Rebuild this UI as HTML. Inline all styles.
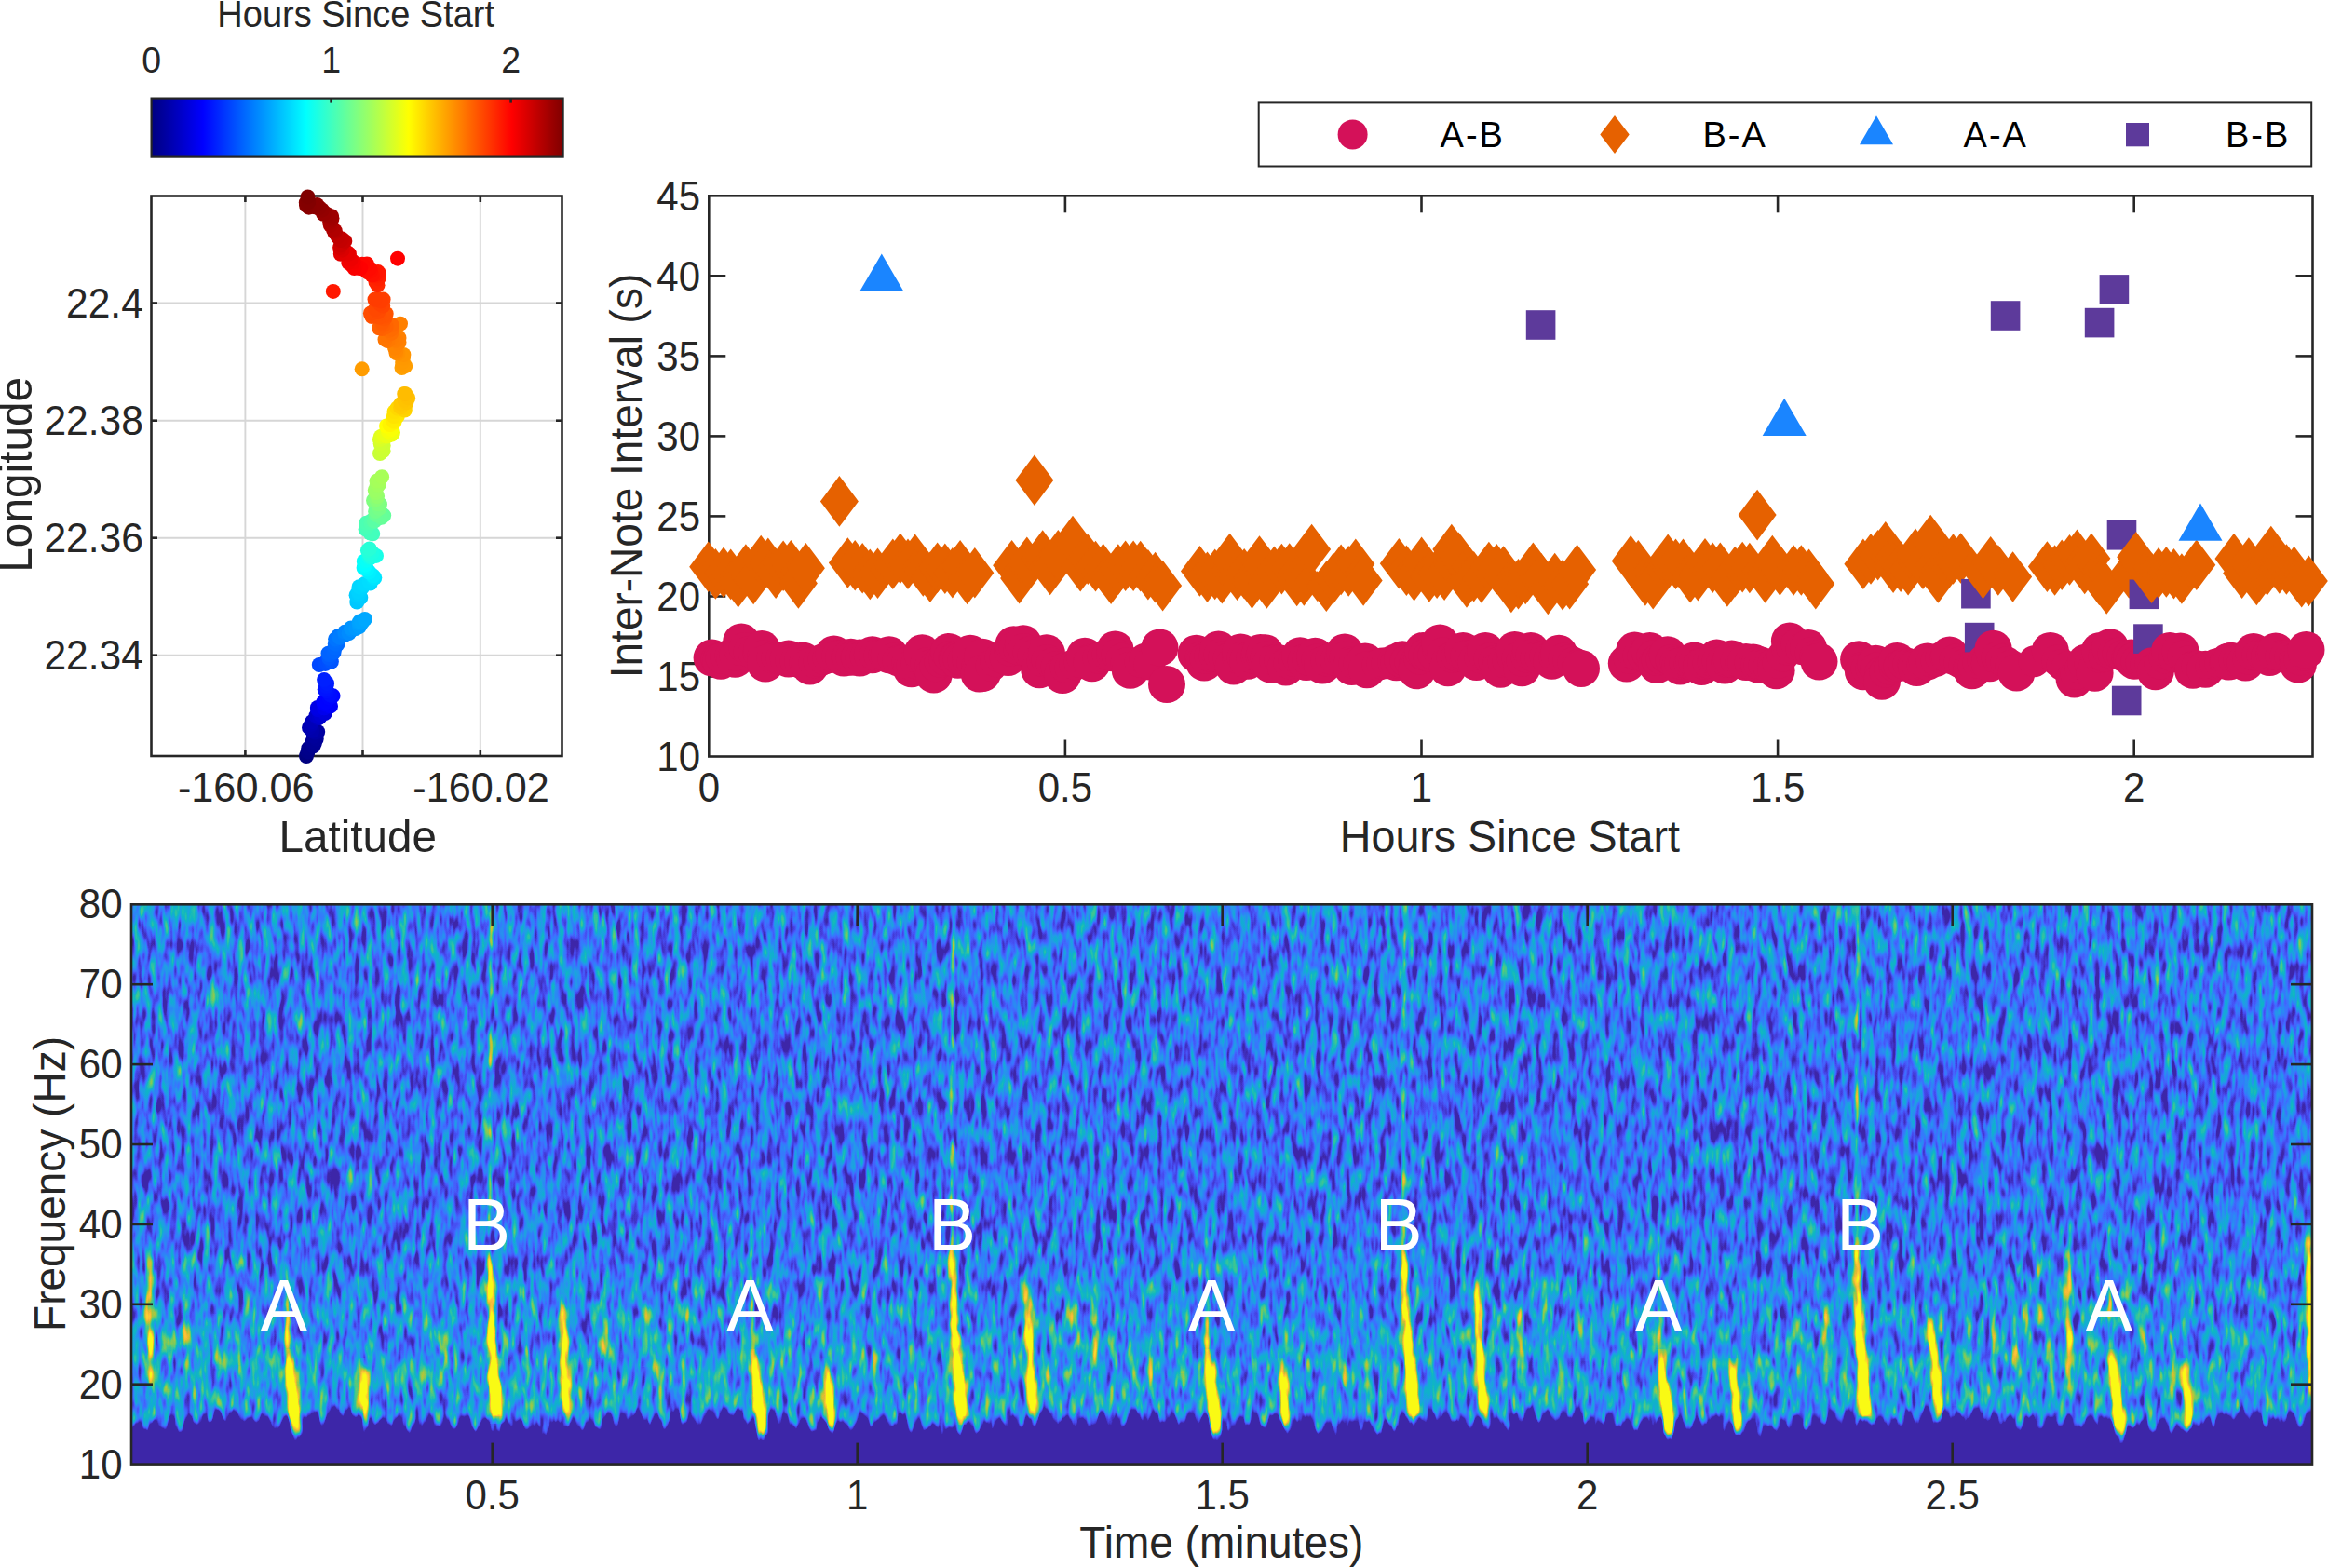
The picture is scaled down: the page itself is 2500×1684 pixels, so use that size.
<!DOCTYPE html>
<html lang="en"><head><meta charset="utf-8"><title>Figure</title>
<style>html,body{margin:0;padding:0;background:#fff;}svg{display:block;}text{font-family:'Liberation Sans', Arial, Helvetica, sans-serif;}</style>
</head><body>
<svg width="2500" height="1684" viewBox="0 0 2500 1684">
<rect x="0" y="0" width="2500" height="1684" fill="#ffffff"/>
<defs>
<linearGradient id="jetg" x1="0" y1="0" x2="1" y2="0"><stop offset="0.0000" stop-color="#000080"/><stop offset="0.0312" stop-color="#00009f"/><stop offset="0.0625" stop-color="#0000bf"/><stop offset="0.0938" stop-color="#0000df"/><stop offset="0.1250" stop-color="#0000ff"/><stop offset="0.1562" stop-color="#0020ff"/><stop offset="0.1875" stop-color="#0040ff"/><stop offset="0.2188" stop-color="#0060ff"/><stop offset="0.2500" stop-color="#0080ff"/><stop offset="0.2812" stop-color="#009fff"/><stop offset="0.3125" stop-color="#00bfff"/><stop offset="0.3438" stop-color="#00dfff"/><stop offset="0.3750" stop-color="#00ffff"/><stop offset="0.4062" stop-color="#20ffdf"/><stop offset="0.4375" stop-color="#40ffbf"/><stop offset="0.4688" stop-color="#60ff9f"/><stop offset="0.5000" stop-color="#80ff80"/><stop offset="0.5312" stop-color="#9fff60"/><stop offset="0.5625" stop-color="#bfff40"/><stop offset="0.5938" stop-color="#dfff20"/><stop offset="0.6250" stop-color="#ffff00"/><stop offset="0.6562" stop-color="#ffdf00"/><stop offset="0.6875" stop-color="#ffbf00"/><stop offset="0.7188" stop-color="#ff9f00"/><stop offset="0.7500" stop-color="#ff8000"/><stop offset="0.7812" stop-color="#ff6000"/><stop offset="0.8125" stop-color="#ff4000"/><stop offset="0.8438" stop-color="#ff2000"/><stop offset="0.8750" stop-color="#ff0000"/><stop offset="0.9062" stop-color="#df0000"/><stop offset="0.9375" stop-color="#bf0000"/><stop offset="0.9688" stop-color="#9f0000"/><stop offset="1.0000" stop-color="#800000"/></linearGradient>
<filter id="specf" filterUnits="userSpaceOnUse" x="141.0" y="971.3" width="2342.0" height="601.3" color-interpolation-filters="sRGB">
<feTurbulence type="fractalNoise" baseFrequency="0.16 0.035" numOctaves="2" seed="11" result="t1"/>
<feColorMatrix in="t1" type="matrix" values="1 0 0 0 0  1 0 0 0 0  1 0 0 0 0  0 0 0 0 1" result="na"/>
<feTurbulence type="fractalNoise" baseFrequency="0.137 0.0415" numOctaves="2" seed="4" result="t2"/>
<feColorMatrix in="t2" type="matrix" values="0 1 0 0 0  0 1 0 0 0  0 1 0 0 0  0 0 0 0 1" result="nb"/>
<feComposite in="na" in2="nb" operator="arithmetic" k1="0" k2="0.7" k3="0.7" k4="-0.2" result="n0"/>
<feComponentTransfer in="n0" result="n"><feFuncR type="table" tableValues="0 0.23 0.5 0.73 0.9"/><feFuncG type="table" tableValues="0 0.23 0.5 0.73 0.9"/><feFuncB type="table" tableValues="0 0.23 0.5 0.73 0.9"/></feComponentTransfer>
<feComposite in="n" in2="SourceGraphic" operator="arithmetic" k1="0" k2="0.82" k3="2" k4="-0.41" result="v"/>
<feComponentTransfer in="v">
<feFuncR type="table" tableValues="0.2422 0.2422 0.2422 0.2422 0.2422 0.2422 0.2422 0.2422 0.2422 0.2422 0.2422 0.2422 0.2422 0.2529 0.2629 0.2720 0.2789 0.2772 0.2660 0.2440 0.2007 0.1708 0.1489 0.1236 0.0845 0.0618 0.0689 0.1411 0.2080 0.2848 0.4158 0.5380 0.6529 0.7600 0.8529 0.9329 0.9909 0.9951 0.9811 0.9720 0.9769"/>
<feFuncG type="table" tableValues="0.1504 0.1504 0.1504 0.1504 0.1504 0.1504 0.1504 0.1504 0.1504 0.1504 0.1504 0.1504 0.1504 0.1870 0.2214 0.2553 0.2935 0.3382 0.3859 0.4358 0.4869 0.5357 0.5820 0.6245 0.6620 0.6955 0.7246 0.7485 0.7693 0.7860 0.7943 0.7903 0.7797 0.7640 0.7447 0.7340 0.7386 0.7814 0.8414 0.9097 0.9839"/>
<feFuncB type="table" tableValues="0.6603 0.6603 0.6603 0.6603 0.6603 0.6603 0.6603 0.6603 0.6603 0.6603 0.6603 0.6603 0.6603 0.7410 0.8152 0.8817 0.9344 0.9673 0.9882 0.9988 0.9854 0.9603 0.9270 0.8920 0.8496 0.8010 0.7460 0.6824 0.6137 0.5323 0.4137 0.3271 0.2571 0.2000 0.1929 0.2071 0.2257 0.2043 0.1714 0.1301 0.0805"/>
<feFuncA type="linear" slope="0" intercept="1"/>
</feComponentTransfer>
</filter>
<filter id="sblur" x="-50%" y="-10%" width="200%" height="120%"><feGaussianBlur stdDeviation="2.8 7"/></filter>
<filter id="fblur" x="-5%" y="-50%" width="110%" height="200%"><feGaussianBlur stdDeviation="2 3"/></filter>
<filter id="sblur2" x="-50%" y="-10%" width="200%" height="120%"><feGaussianBlur stdDeviation="1.2 6"/></filter>
<linearGradient id="lvl" gradientUnits="userSpaceOnUse" x1="0" y1="971.3" x2="0" y2="1572.6">
<stop offset="0.0000" stop-color="#404040"/>
<stop offset="0.2140" stop-color="#3e3e3e"/>
<stop offset="0.4635" stop-color="#3d3d3d"/>
<stop offset="0.5965" stop-color="#3e3e3e"/>
<stop offset="0.7130" stop-color="#424242"/>
<stop offset="0.8294" stop-color="#474747"/>
<stop offset="0.8959" stop-color="#494949"/>
<stop offset="1.0000" stop-color="#494949"/>
</linearGradient>
<clipPath id="pclip"><rect x="141.0" y="971.3" width="2342.0" height="601.3"/></clipPath>
</defs>
<rect x="162.6" y="105.6" width="442.0" height="63.0" fill="url(#jetg)" stroke="#262626" stroke-width="2.2"/>
<line x1="355.6" y1="105.6" x2="355.6" y2="110.6" stroke="#262626" stroke-width="2.6"/>
<line x1="548.6" y1="105.6" x2="548.6" y2="110.6" stroke="#262626" stroke-width="2.6"/>
<text transform="translate(162.6,78.4) scale(1,1.05)" font-size="37.5" text-anchor="middle" fill="#262626" >0</text>
<text transform="translate(355.6,78.4) scale(1,1.05)" font-size="37.5" text-anchor="middle" fill="#262626" >1</text>
<text transform="translate(548.6,78.4) scale(1,1.05)" font-size="37.5" text-anchor="middle" fill="#262626" >2</text>
<text transform="translate(382.2,28.8) scale(1,1.05)" font-size="38" text-anchor="middle" fill="#262626" >Hours Since Start</text>
<line x1="263.4" y1="210.5" x2="263.4" y2="812.0" stroke="#d6d6d6" stroke-width="1.9"/>
<line x1="389.5" y1="210.5" x2="389.5" y2="812.0" stroke="#d6d6d6" stroke-width="1.9"/>
<line x1="515.8" y1="210.5" x2="515.8" y2="812.0" stroke="#d6d6d6" stroke-width="1.9"/>
<line x1="162.5" y1="325.5" x2="603.5" y2="325.5" stroke="#d6d6d6" stroke-width="1.9"/>
<line x1="162.5" y1="451.7" x2="603.5" y2="451.7" stroke="#d6d6d6" stroke-width="1.9"/>
<line x1="162.5" y1="577.7" x2="603.5" y2="577.7" stroke="#d6d6d6" stroke-width="1.9"/>
<line x1="162.5" y1="703.7" x2="603.5" y2="703.7" stroke="#d6d6d6" stroke-width="1.9"/>
<rect x="162.5" y="210.5" width="441.0" height="601.5" fill="none" stroke="#262626" stroke-width="2.6"/>
<line x1="263.4" y1="210.5" x2="263.4" y2="217.0" stroke="#262626" stroke-width="2.6"/>
<line x1="263.4" y1="812.0" x2="263.4" y2="805.5" stroke="#262626" stroke-width="2.6"/>
<line x1="389.5" y1="210.5" x2="389.5" y2="217.0" stroke="#262626" stroke-width="2.6"/>
<line x1="389.5" y1="812.0" x2="389.5" y2="805.5" stroke="#262626" stroke-width="2.6"/>
<line x1="515.8" y1="210.5" x2="515.8" y2="217.0" stroke="#262626" stroke-width="2.6"/>
<line x1="515.8" y1="812.0" x2="515.8" y2="805.5" stroke="#262626" stroke-width="2.6"/>
<line x1="162.5" y1="325.5" x2="169.0" y2="325.5" stroke="#262626" stroke-width="2.6"/>
<line x1="603.5" y1="325.5" x2="597.0" y2="325.5" stroke="#262626" stroke-width="2.6"/>
<line x1="162.5" y1="451.7" x2="169.0" y2="451.7" stroke="#262626" stroke-width="2.6"/>
<line x1="603.5" y1="451.7" x2="597.0" y2="451.7" stroke="#262626" stroke-width="2.6"/>
<line x1="162.5" y1="577.7" x2="169.0" y2="577.7" stroke="#262626" stroke-width="2.6"/>
<line x1="603.5" y1="577.7" x2="597.0" y2="577.7" stroke="#262626" stroke-width="2.6"/>
<line x1="162.5" y1="703.7" x2="169.0" y2="703.7" stroke="#262626" stroke-width="2.6"/>
<line x1="603.5" y1="703.7" x2="597.0" y2="703.7" stroke="#262626" stroke-width="2.6"/>
<text transform="translate(153.8,341.0) scale(1,1.04)" font-size="42.5" text-anchor="end" fill="#262626" >22.4</text>
<text transform="translate(153.8,467.2) scale(1,1.04)" font-size="42.5" text-anchor="end" fill="#262626" >22.38</text>
<text transform="translate(153.8,593.2) scale(1,1.04)" font-size="42.5" text-anchor="end" fill="#262626" >22.36</text>
<text transform="translate(153.8,719.2) scale(1,1.04)" font-size="42.5" text-anchor="end" fill="#262626" >22.34</text>
<text transform="translate(264.2,861.3) scale(1,1.01)" font-size="43.2" text-anchor="middle" fill="#262626" >-160.06</text>
<text transform="translate(516.6,861.3) scale(1,1.01)" font-size="43.2" text-anchor="middle" fill="#262626" >-160.02</text>
<text transform="translate(384.2,915.0) scale(1,1.02)" font-size="47.6" text-anchor="middle" fill="#262626" >Latitude</text>
<text transform="translate(33.6,509.8) rotate(-90) scale(1,1.05)" font-size="47.8" text-anchor="middle" fill="#262626">Longitude</text>
<g>
<circle cx="329.0" cy="812.0" r="8" fill="#000080"/>
<circle cx="330.5" cy="807.4" r="8" fill="#000088"/>
<circle cx="331.3" cy="803.6" r="8" fill="#00008b"/>
<circle cx="335.6" cy="801.2" r="8" fill="#00008d"/>
<circle cx="336.6" cy="801.3" r="8" fill="#000090"/>
<circle cx="337.9" cy="798.1" r="8" fill="#000093"/>
<circle cx="335.6" cy="796.2" r="8" fill="#000095"/>
<circle cx="339.7" cy="793.6" r="8" fill="#000098"/>
<circle cx="337.0" cy="790.7" r="8" fill="#00009b"/>
<circle cx="337.7" cy="786.5" r="8" fill="#00009d"/>
<circle cx="341.2" cy="786.0" r="8" fill="#0000a0"/>
<circle cx="338.4" cy="786.5" r="8" fill="#0000a4"/>
<circle cx="334.0" cy="782.3" r="8" fill="#0000a8"/>
<circle cx="335.2" cy="784.8" r="8" fill="#0000ac"/>
<circle cx="332.0" cy="781.4" r="8" fill="#0000b0"/>
<circle cx="334.1" cy="777.8" r="8" fill="#0000b4"/>
<circle cx="335.1" cy="775.2" r="8" fill="#0000b8"/>
<circle cx="340.7" cy="771.4" r="8" fill="#0000bd"/>
<circle cx="342.2" cy="771.1" r="8" fill="#0000c3"/>
<circle cx="339.5" cy="768.7" r="8" fill="#0000c8"/>
<circle cx="343.0" cy="770.7" r="8" fill="#0000cd"/>
<circle cx="344.4" cy="768.0" r="8" fill="#0000d3"/>
<circle cx="348.9" cy="766.1" r="8" fill="#0000d8"/>
<circle cx="347.3" cy="764.2" r="8" fill="#0000db"/>
<circle cx="344.1" cy="761.3" r="8" fill="#0000dd"/>
<circle cx="341.2" cy="762.2" r="8" fill="#0000e0"/>
<circle cx="340.9" cy="760.0" r="8" fill="#0000e5"/>
<circle cx="348.0" cy="760.3" r="8" fill="#0000ea"/>
<circle cx="348.2" cy="760.3" r="8" fill="#0000ee"/>
<circle cx="351.9" cy="758.2" r="8" fill="#0000f3"/>
<circle cx="355.0" cy="758.4" r="8" fill="#0000f8"/>
<circle cx="354.5" cy="757.9" r="8" fill="#0000fa"/>
<circle cx="348.1" cy="755.7" r="8" fill="#0000fd"/>
<circle cx="347.4" cy="753.8" r="8" fill="#0000ff"/>
<circle cx="349.9" cy="754.2" r="8" fill="#0002ff"/>
<circle cx="353.6" cy="749.7" r="8" fill="#0004ff"/>
<circle cx="357.6" cy="747.3" r="8" fill="#0006ff"/>
<circle cx="356.5" cy="747.7" r="8" fill="#0008ff"/>
<circle cx="354.4" cy="746.3" r="8" fill="#000cff"/>
<circle cx="351.0" cy="742.3" r="8" fill="#0010ff"/>
<circle cx="348.7" cy="740.5" r="8" fill="#0014ff"/>
<circle cx="350.4" cy="737.0" r="8" fill="#0018ff"/>
<circle cx="351.1" cy="733.9" r="8" fill="#001cff"/>
<circle cx="348.1" cy="730.1" r="8" fill="#0020ff"/>
<circle cx="342.8" cy="714.0" r="8" fill="#0048ff"/>
<circle cx="348.1" cy="712.3" r="8" fill="#004aff"/>
<circle cx="349.5" cy="712.9" r="8" fill="#004cff"/>
<circle cx="351.4" cy="711.5" r="8" fill="#004eff"/>
<circle cx="353.5" cy="710.9" r="8" fill="#0050ff"/>
<circle cx="355.9" cy="710.6" r="8" fill="#0055ff"/>
<circle cx="353.3" cy="706.7" r="8" fill="#005bff"/>
<circle cx="353.5" cy="703.3" r="8" fill="#0060ff"/>
<circle cx="352.5" cy="701.7" r="8" fill="#0063ff"/>
<circle cx="358.6" cy="700.6" r="8" fill="#0065ff"/>
<circle cx="359.6" cy="695.6" r="8" fill="#0068ff"/>
<circle cx="362.4" cy="692.0" r="8" fill="#006bff"/>
<circle cx="359.8" cy="691.4" r="8" fill="#006dff"/>
<circle cx="361.1" cy="688.0" r="8" fill="#0070ff"/>
<circle cx="360.1" cy="686.3" r="8" fill="#0074ff"/>
<circle cx="363.4" cy="683.0" r="8" fill="#0078ff"/>
<circle cx="364.9" cy="684.8" r="8" fill="#007cff"/>
<circle cx="370.3" cy="681.9" r="8" fill="#0080ff"/>
<circle cx="370.3" cy="678.8" r="8" fill="#0085ff"/>
<circle cx="374.7" cy="680.2" r="8" fill="#008bff"/>
<circle cx="378.0" cy="676.5" r="8" fill="#0090ff"/>
<circle cx="377.0" cy="674.5" r="8" fill="#0094ff"/>
<circle cx="382.1" cy="675.0" r="8" fill="#0098ff"/>
<circle cx="385.9" cy="673.1" r="8" fill="#009cff"/>
<circle cx="385.6" cy="669.6" r="8" fill="#00a0ff"/>
<circle cx="386.1" cy="667.6" r="8" fill="#00a3ff"/>
<circle cx="388.7" cy="668.5" r="8" fill="#00a5ff"/>
<circle cx="391.8" cy="665.0" r="8" fill="#00a8ff"/>
<circle cx="383.3" cy="646.6" r="8" fill="#00c8ff"/>
<circle cx="387.3" cy="641.8" r="8" fill="#00cbff"/>
<circle cx="382.6" cy="639.2" r="8" fill="#00cdff"/>
<circle cx="385.6" cy="637.5" r="8" fill="#00d0ff"/>
<circle cx="384.9" cy="635.1" r="8" fill="#00d2ff"/>
<circle cx="388.5" cy="631.7" r="8" fill="#00d4ff"/>
<circle cx="385.6" cy="630.2" r="8" fill="#00d6ff"/>
<circle cx="390.2" cy="628.3" r="8" fill="#00d8ff"/>
<circle cx="391.4" cy="627.3" r="8" fill="#00daff"/>
<circle cx="397.7" cy="626.5" r="8" fill="#00dbff"/>
<circle cx="396.8" cy="624.7" r="8" fill="#00ddff"/>
<circle cx="400.1" cy="620.5" r="8" fill="#00deff"/>
<circle cx="401.0" cy="621.4" r="8" fill="#00e0ff"/>
<circle cx="402.3" cy="620.5" r="8" fill="#00e5ff"/>
<circle cx="400.6" cy="618.3" r="8" fill="#00ebff"/>
<circle cx="396.4" cy="614.5" r="8" fill="#00f0ff"/>
<circle cx="394.1" cy="611.4" r="8" fill="#00f5ff"/>
<circle cx="390.6" cy="610.0" r="8" fill="#00faff"/>
<circle cx="391.8" cy="606.8" r="8" fill="#00ffff"/>
<circle cx="390.8" cy="603.0" r="8" fill="#04fffb"/>
<circle cx="393.8" cy="601.8" r="8" fill="#08fff7"/>
<circle cx="396.8" cy="599.6" r="8" fill="#0cfff3"/>
<circle cx="396.4" cy="598.5" r="8" fill="#10ffef"/>
<circle cx="399.2" cy="597.9" r="8" fill="#14ffeb"/>
<circle cx="404.0" cy="596.9" r="8" fill="#18ffe7"/>
<circle cx="398.1" cy="598.0" r="8" fill="#1bffe4"/>
<circle cx="399.7" cy="593.6" r="8" fill="#1dffe2"/>
<circle cx="396.4" cy="594.6" r="8" fill="#20ffdf"/>
<circle cx="394.9" cy="591.2" r="8" fill="#24ffdb"/>
<circle cx="396.8" cy="589.4" r="8" fill="#28ffd7"/>
<circle cx="400.3" cy="573.3" r="8" fill="#40ffbf"/>
<circle cx="396.8" cy="569.8" r="8" fill="#41ffbe"/>
<circle cx="397.6" cy="572.5" r="8" fill="#43ffbc"/>
<circle cx="392.6" cy="568.4" r="8" fill="#44ffbb"/>
<circle cx="394.2" cy="566.0" r="8" fill="#48ffb7"/>
<circle cx="393.4" cy="561.7" r="8" fill="#4cffb3"/>
<circle cx="398.2" cy="561.4" r="8" fill="#50ffaf"/>
<circle cx="399.4" cy="558.9" r="8" fill="#53ffac"/>
<circle cx="405.2" cy="557.1" r="8" fill="#57ffa8"/>
<circle cx="401.9" cy="559.8" r="8" fill="#5affa5"/>
<circle cx="407.7" cy="554.4" r="8" fill="#5dffa2"/>
<circle cx="410.2" cy="552.5" r="8" fill="#61ff9e"/>
<circle cx="412.2" cy="553.6" r="8" fill="#64ff9b"/>
<circle cx="409.6" cy="555.8" r="8" fill="#65ff9a"/>
<circle cx="409.1" cy="554.1" r="8" fill="#67ff98"/>
<circle cx="403.8" cy="552.9" r="8" fill="#68ff97"/>
<circle cx="403.2" cy="549.4" r="8" fill="#6dff92"/>
<circle cx="403.6" cy="548.7" r="8" fill="#72ff8d"/>
<circle cx="407.2" cy="545.9" r="8" fill="#77ff88"/>
<circle cx="408.0" cy="541.7" r="8" fill="#7cff83"/>
<circle cx="404.5" cy="538.9" r="8" fill="#7dff82"/>
<circle cx="405.5" cy="541.3" r="8" fill="#7fff80"/>
<circle cx="401.0" cy="537.5" r="8" fill="#80ff7f"/>
<circle cx="404.4" cy="536.2" r="8" fill="#88ff77"/>
<circle cx="405.1" cy="533.1" r="8" fill="#90ff6f"/>
<circle cx="403.8" cy="529.1" r="8" fill="#98ff67"/>
<circle cx="402.8" cy="526.4" r="8" fill="#9bff64"/>
<circle cx="404.7" cy="521.1" r="8" fill="#9dff62"/>
<circle cx="406.6" cy="520.7" r="8" fill="#a0ff5f"/>
<circle cx="404.5" cy="516.8" r="8" fill="#a3ff5c"/>
<circle cx="407.2" cy="516.0" r="8" fill="#a5ff5a"/>
<circle cx="410.1" cy="512.2" r="8" fill="#a8ff57"/>
<circle cx="408.0" cy="487.0" r="8" fill="#c8ff37"/>
<circle cx="411.4" cy="484.1" r="8" fill="#caff35"/>
<circle cx="411.4" cy="484.2" r="8" fill="#ccff33"/>
<circle cx="411.7" cy="478.4" r="8" fill="#ceff31"/>
<circle cx="408.7" cy="476.5" r="8" fill="#d0ff2f"/>
<circle cx="407.9" cy="472.1" r="8" fill="#d8ff27"/>
<circle cx="408.9" cy="468.9" r="8" fill="#e0ff1f"/>
<circle cx="412.2" cy="467.3" r="8" fill="#e8ff17"/>
<circle cx="415.5" cy="468.6" r="8" fill="#eaff15"/>
<circle cx="419.5" cy="465.8" r="8" fill="#ecff13"/>
<circle cx="420.6" cy="466.7" r="8" fill="#eeff11"/>
<circle cx="422.0" cy="464.5" r="8" fill="#f0ff0f"/>
<circle cx="416.8" cy="463.0" r="8" fill="#f5ff0a"/>
<circle cx="420.2" cy="461.2" r="8" fill="#faff05"/>
<circle cx="415.0" cy="457.5" r="8" fill="#ffff00"/>
<circle cx="419.6" cy="456.0" r="8" fill="#fffa00"/>
<circle cx="418.4" cy="456.1" r="8" fill="#fff500"/>
<circle cx="423.5" cy="453.3" r="8" fill="#fff000"/>
<circle cx="422.3" cy="452.0" r="8" fill="#ffec00"/>
<circle cx="426.8" cy="447.2" r="8" fill="#ffe800"/>
<circle cx="422.8" cy="447.1" r="8" fill="#ffe400"/>
<circle cx="423.5" cy="442.1" r="8" fill="#ffe000"/>
<circle cx="427.9" cy="439.4" r="8" fill="#ffdc00"/>
<circle cx="426.5" cy="438.3" r="8" fill="#ffd800"/>
<circle cx="434.7" cy="440.5" r="8" fill="#ffd400"/>
<circle cx="434.7" cy="437.9" r="8" fill="#ffd000"/>
<circle cx="430.1" cy="437.4" r="8" fill="#ffcc00"/>
<circle cx="430.5" cy="433.7" r="8" fill="#ffc800"/>
<circle cx="436.4" cy="432.4" r="8" fill="#ffc500"/>
<circle cx="434.6" cy="429.7" r="8" fill="#ffc300"/>
<circle cx="438.2" cy="427.4" r="8" fill="#ffc000"/>
<circle cx="434.2" cy="422.9" r="8" fill="#ffbe00"/>
<circle cx="435.4" cy="423.2" r="8" fill="#ffbc00"/>
<circle cx="431.5" cy="395.1" r="8" fill="#ffa000"/>
<circle cx="435.2" cy="393.2" r="8" fill="#ff9e00"/>
<circle cx="388.7" cy="396.3" r="8" fill="#ff9c00"/>
<circle cx="432.4" cy="391.9" r="8" fill="#ff9c00"/>
<circle cx="432.2" cy="388.9" r="8" fill="#ff9a00"/>
<circle cx="433.0" cy="384.4" r="8" fill="#ff9800"/>
<circle cx="433.4" cy="381.0" r="8" fill="#ff9400"/>
<circle cx="427.5" cy="379.5" r="8" fill="#ff9000"/>
<circle cx="425.5" cy="379.1" r="8" fill="#ff8c00"/>
<circle cx="425.4" cy="376.7" r="8" fill="#ff8800"/>
<circle cx="424.3" cy="373.6" r="8" fill="#ff8600"/>
<circle cx="424.1" cy="373.3" r="8" fill="#ff8500"/>
<circle cx="426.2" cy="368.3" r="8" fill="#ff8300"/>
<circle cx="428.5" cy="367.8" r="8" fill="#ff8200"/>
<circle cx="428.5" cy="363.0" r="8" fill="#ff8000"/>
<circle cx="430.0" cy="347.7" r="8" fill="#ff8000"/>
<circle cx="425.5" cy="365.7" r="8" fill="#ff7e00"/>
<circle cx="423.6" cy="364.4" r="8" fill="#ff7d00"/>
<circle cx="421.3" cy="362.4" r="8" fill="#ff7b00"/>
<circle cx="418.2" cy="363.8" r="8" fill="#ff7a00"/>
<circle cx="416.2" cy="366.0" r="8" fill="#ff7800"/>
<circle cx="413.5" cy="364.7" r="8" fill="#ff7500"/>
<circle cx="415.4" cy="360.3" r="8" fill="#ff7300"/>
<circle cx="420.1" cy="357.9" r="8" fill="#ff7000"/>
<circle cx="418.0" cy="354.9" r="8" fill="#ff6d00"/>
<circle cx="420.4" cy="353.4" r="8" fill="#ff6b00"/>
<circle cx="420.8" cy="349.2" r="8" fill="#ff6800"/>
<circle cx="415.3" cy="350.1" r="8" fill="#ff6600"/>
<circle cx="413.5" cy="349.3" r="8" fill="#ff6500"/>
<circle cx="414.4" cy="351.1" r="8" fill="#ff6300"/>
<circle cx="410.2" cy="353.0" r="8" fill="#ff6200"/>
<circle cx="407.0" cy="352.3" r="8" fill="#ff6000"/>
<circle cx="411.2" cy="349.5" r="8" fill="#ff5e00"/>
<circle cx="410.4" cy="347.2" r="8" fill="#ff5c00"/>
<circle cx="410.9" cy="345.6" r="8" fill="#ff5a00"/>
<circle cx="411.8" cy="342.3" r="8" fill="#ff5800"/>
<circle cx="413.3" cy="341.8" r="8" fill="#ff5600"/>
<circle cx="414.7" cy="337.0" r="8" fill="#ff5400"/>
<circle cx="413.5" cy="339.4" r="8" fill="#ff5300"/>
<circle cx="412.7" cy="336.8" r="8" fill="#ff5300"/>
<circle cx="407.5" cy="340.7" r="8" fill="#ff5200"/>
<circle cx="406.9" cy="337.2" r="8" fill="#ff5100"/>
<circle cx="399.3" cy="339.2" r="8" fill="#ff5100"/>
<circle cx="399.4" cy="340.0" r="8" fill="#ff5000"/>
<circle cx="397.9" cy="336.4" r="8" fill="#ff4e00"/>
<circle cx="399.5" cy="336.2" r="8" fill="#ff4c00"/>
<circle cx="406.0" cy="335.1" r="8" fill="#ff4a00"/>
<circle cx="403.1" cy="331.9" r="8" fill="#ff4800"/>
<circle cx="408.1" cy="326.7" r="8" fill="#ff4600"/>
<circle cx="411.2" cy="328.5" r="8" fill="#ff4400"/>
<circle cx="408.1" cy="326.2" r="8" fill="#ff4200"/>
<circle cx="411.6" cy="321.6" r="8" fill="#ff4000"/>
<circle cx="407.9" cy="321.5" r="8" fill="#ff3f00"/>
<circle cx="409.0" cy="323.3" r="8" fill="#ff3d00"/>
<circle cx="402.5" cy="321.6" r="8" fill="#ff3c00"/>
<circle cx="405.5" cy="306.3" r="8" fill="#ff2800"/>
<circle cx="403.5" cy="302.9" r="8" fill="#ff2400"/>
<circle cx="406.4" cy="299.3" r="8" fill="#ff2000"/>
<circle cx="404.5" cy="296.2" r="8" fill="#ff1c00"/>
<circle cx="357.8" cy="312.9" r="8" fill="#ff1800"/>
<circle cx="407.0" cy="294.0" r="8" fill="#ff1800"/>
<circle cx="406.0" cy="292.1" r="8" fill="#ff1500"/>
<circle cx="402.3" cy="294.8" r="8" fill="#ff1300"/>
<circle cx="399.4" cy="295.6" r="8" fill="#ff1000"/>
<circle cx="394.9" cy="292.3" r="8" fill="#ff0e00"/>
<circle cx="398.1" cy="290.8" r="8" fill="#ff0d00"/>
<circle cx="393.1" cy="290.7" r="8" fill="#ff0b00"/>
<circle cx="397.1" cy="288.2" r="8" fill="#ff0a00"/>
<circle cx="394.0" cy="283.4" r="8" fill="#ff0800"/>
<circle cx="388.9" cy="283.8" r="8" fill="#ff0500"/>
<circle cx="386.2" cy="287.9" r="8" fill="#ff0300"/>
<circle cx="387.1" cy="288.0" r="8" fill="#ff0000"/>
<circle cx="427.0" cy="277.7" r="8" fill="#ff0000"/>
<circle cx="382.5" cy="285.1" r="8" fill="#fd0000"/>
<circle cx="380.5" cy="288.0" r="8" fill="#fa0000"/>
<circle cx="378.0" cy="284.9" r="8" fill="#f80000"/>
<circle cx="379.6" cy="281.3" r="8" fill="#f50000"/>
<circle cx="374.3" cy="282.1" r="8" fill="#f20000"/>
<circle cx="376.6" cy="278.6" r="8" fill="#ee0000"/>
<circle cx="372.6" cy="272.9" r="8" fill="#eb0000"/>
<circle cx="374.9" cy="272.7" r="8" fill="#e80000"/>
<circle cx="373.2" cy="271.3" r="8" fill="#e50000"/>
<circle cx="365.8" cy="272.8" r="8" fill="#e30000"/>
<circle cx="365.7" cy="269.6" r="8" fill="#e00000"/>
<circle cx="367.8" cy="268.4" r="8" fill="#da0000"/>
<circle cx="365.1" cy="266.0" r="8" fill="#d40000"/>
<circle cx="366.1" cy="263.4" r="8" fill="#ce0000"/>
<circle cx="370.3" cy="258.9" r="8" fill="#c80000"/>
<circle cx="367.4" cy="256.6" r="8" fill="#c50000"/>
<circle cx="365.6" cy="258.0" r="8" fill="#c30000"/>
<circle cx="362.7" cy="254.3" r="8" fill="#c00000"/>
<circle cx="359.5" cy="249.9" r="8" fill="#bb0000"/>
<circle cx="359.8" cy="247.9" r="8" fill="#b50000"/>
<circle cx="358.0" cy="246.6" r="8" fill="#b00000"/>
<circle cx="354.9" cy="241.9" r="8" fill="#ac0000"/>
<circle cx="354.1" cy="239.0" r="8" fill="#a80000"/>
<circle cx="355.6" cy="236.5" r="8" fill="#a40000"/>
<circle cx="356.5" cy="234.4" r="8" fill="#a00000"/>
<circle cx="356.0" cy="232.2" r="8" fill="#9e0000"/>
<circle cx="351.9" cy="230.5" r="8" fill="#9c0000"/>
<circle cx="348.5" cy="228.5" r="8" fill="#9a0000"/>
<circle cx="347.3" cy="229.8" r="8" fill="#980000"/>
<circle cx="344.1" cy="225.1" r="8" fill="#950000"/>
<circle cx="345.9" cy="225.5" r="8" fill="#930000"/>
<circle cx="342.8" cy="222.9" r="8" fill="#900000"/>
<circle cx="337.9" cy="222.3" r="8" fill="#8e0000"/>
<circle cx="340.3" cy="220.0" r="8" fill="#8d0000"/>
<circle cx="336.8" cy="221.2" r="8" fill="#8b0000"/>
<circle cx="331.7" cy="222.7" r="8" fill="#8a0000"/>
<circle cx="329.0" cy="220.6" r="8" fill="#880000"/>
<circle cx="328.8" cy="217.6" r="8" fill="#850000"/>
<circle cx="331.3" cy="216.9" r="8" fill="#830000"/>
<circle cx="330.5" cy="211.4" r="8" fill="#800000"/>
</g>
<rect x="761.3" y="210.3" width="1722.2" height="602.2" fill="none" stroke="#262626" stroke-width="2.6"/>
<text transform="translate(761.3,861.0) scale(1,1.05)" font-size="42" text-anchor="middle" fill="#262626" >0</text>
<line x1="1143.9" y1="210.3" x2="1143.9" y2="228.3" stroke="#262626" stroke-width="2.6"/>
<line x1="1143.9" y1="812.5" x2="1143.9" y2="794.5" stroke="#262626" stroke-width="2.6"/>
<text transform="translate(1143.9,861.0) scale(1,1.05)" font-size="42" text-anchor="middle" fill="#262626" >0.5</text>
<line x1="1526.5" y1="210.3" x2="1526.5" y2="228.3" stroke="#262626" stroke-width="2.6"/>
<line x1="1526.5" y1="812.5" x2="1526.5" y2="794.5" stroke="#262626" stroke-width="2.6"/>
<text transform="translate(1526.5,861.0) scale(1,1.05)" font-size="42" text-anchor="middle" fill="#262626" >1</text>
<line x1="1909.1" y1="210.3" x2="1909.1" y2="228.3" stroke="#262626" stroke-width="2.6"/>
<line x1="1909.1" y1="812.5" x2="1909.1" y2="794.5" stroke="#262626" stroke-width="2.6"/>
<text transform="translate(1909.1,861.0) scale(1,1.05)" font-size="42" text-anchor="middle" fill="#262626" >1.5</text>
<line x1="2291.7" y1="210.3" x2="2291.7" y2="228.3" stroke="#262626" stroke-width="2.6"/>
<line x1="2291.7" y1="812.5" x2="2291.7" y2="794.5" stroke="#262626" stroke-width="2.6"/>
<text transform="translate(2291.7,861.0) scale(1,1.05)" font-size="42" text-anchor="middle" fill="#262626" >2</text>
<text transform="translate(752.0,225.9) scale(1,1.05)" font-size="42" text-anchor="end" fill="#262626" >45</text>
<line x1="761.3" y1="296.3" x2="779.3" y2="296.3" stroke="#262626" stroke-width="2.6"/>
<line x1="2483.5" y1="296.3" x2="2465.5" y2="296.3" stroke="#262626" stroke-width="2.6"/>
<text transform="translate(752.0,311.9) scale(1,1.05)" font-size="42" text-anchor="end" fill="#262626" >40</text>
<line x1="761.3" y1="382.4" x2="779.3" y2="382.4" stroke="#262626" stroke-width="2.6"/>
<line x1="2483.5" y1="382.4" x2="2465.5" y2="382.4" stroke="#262626" stroke-width="2.6"/>
<text transform="translate(752.0,398.0) scale(1,1.05)" font-size="42" text-anchor="end" fill="#262626" >35</text>
<line x1="761.3" y1="468.4" x2="779.3" y2="468.4" stroke="#262626" stroke-width="2.6"/>
<line x1="2483.5" y1="468.4" x2="2465.5" y2="468.4" stroke="#262626" stroke-width="2.6"/>
<text transform="translate(752.0,484.0) scale(1,1.05)" font-size="42" text-anchor="end" fill="#262626" >30</text>
<line x1="761.3" y1="554.4" x2="779.3" y2="554.4" stroke="#262626" stroke-width="2.6"/>
<line x1="2483.5" y1="554.4" x2="2465.5" y2="554.4" stroke="#262626" stroke-width="2.6"/>
<text transform="translate(752.0,570.0) scale(1,1.05)" font-size="42" text-anchor="end" fill="#262626" >25</text>
<line x1="761.3" y1="640.5" x2="779.3" y2="640.5" stroke="#262626" stroke-width="2.6"/>
<line x1="2483.5" y1="640.5" x2="2465.5" y2="640.5" stroke="#262626" stroke-width="2.6"/>
<text transform="translate(752.0,656.1) scale(1,1.05)" font-size="42" text-anchor="end" fill="#262626" >20</text>
<line x1="761.3" y1="726.5" x2="779.3" y2="726.5" stroke="#262626" stroke-width="2.6"/>
<line x1="2483.5" y1="726.5" x2="2465.5" y2="726.5" stroke="#262626" stroke-width="2.6"/>
<text transform="translate(752.0,742.1) scale(1,1.05)" font-size="42" text-anchor="end" fill="#262626" >15</text>
<text transform="translate(752.0,828.1) scale(1,1.05)" font-size="42" text-anchor="end" fill="#262626" >10</text>
<text transform="translate(1621.4,914.8) scale(1,1.05)" font-size="46.6" text-anchor="middle" fill="#262626" >Hours Since Start</text>
<text transform="translate(689.0,511.0) rotate(-90) scale(1,1.05)" font-size="46" text-anchor="middle" fill="#262626">Inter-Note Interval (s)</text>
<rect x="1351.7" y="110.4" width="1130.5" height="68.1" fill="#ffffff" stroke="#262626" stroke-width="2"/>
<circle cx="1452.6" cy="144.4" r="16" fill="#D41159"/>
<polygon points="1734,123.9 1749.7,144.4 1734,164.9 1718.3,144.4" fill="#E66100"/>
<polygon points="2015,124.3 2033,155.3 1997,155.3" fill="#1A85FF"/>
<rect x="2283" y="132" width="25" height="25.3" fill="#5D3A9B"/>
<text transform="translate(1546.6,158.3) scale(1,1.0)" font-size="38" text-anchor="start" fill="#000000" letter-spacing="2">A-B</text>
<text transform="translate(1828.4,158.3) scale(1,1.0)" font-size="38" text-anchor="start" fill="#000000" letter-spacing="2">B-A</text>
<text transform="translate(2108.6,158.3) scale(1,1.0)" font-size="38" text-anchor="start" fill="#000000" letter-spacing="2">A-A</text>
<text transform="translate(2390.0,158.3) scale(1,1.0)" font-size="38" text-anchor="start" fill="#000000" letter-spacing="2">B-B</text>
<style>.c{fill:#D41159}.d{fill:#E66100}.t{fill:#1A85FF}.q{fill:#5D3A9B}</style>
<g>
<polygon class="d" points="760.7,596.1 773.0,612.5 760.7,628.9 748.4,612.5"/>
<polygon class="d" points="760.7,581.4 781.2,608.7 760.7,636.0 740.2,608.7"/>
<circle class="c" cx="764.6" cy="707.3" r="17.0"/>
<circle class="c" cx="764.6" cy="706.6" r="20.0"/>
<polygon class="d" points="766.7,596.9 779.0,613.3 766.7,629.7 754.4,613.3"/>
<polygon class="d" points="768.4,589.1 788.9,616.4 768.4,643.7 747.9,616.4"/>
<circle class="c" cx="769.6" cy="708.1" r="17.0"/>
<polygon class="d" points="772.7,597.8 785.0,614.2 772.7,630.6 760.4,614.2"/>
<circle class="c" cx="774.1" cy="709.7" r="20.0"/>
<circle class="c" cx="774.6" cy="706.8" r="17.0"/>
<polygon class="d" points="777.0,587.5 797.5,614.8 777.0,642.1 756.5,614.8"/>
<polygon class="d" points="778.7,599.6 791.0,616.0 778.7,632.4 766.4,616.0"/>
<circle class="c" cx="779.6" cy="705.1" r="17.0"/>
<circle class="c" cx="784.6" cy="704.0" r="17.0"/>
<polygon class="d" points="784.7,589.6 805.2,616.9 784.7,644.2 764.2,616.9"/>
<polygon class="d" points="784.7,602.6 797.0,619.0 784.7,635.4 772.4,619.0"/>
<circle class="c" cx="789.4" cy="707.8" r="20.0"/>
<circle class="c" cx="789.6" cy="703.5" r="17.0"/>
<polygon class="d" points="790.7,601.5 803.0,617.9 790.7,634.3 778.4,617.9"/>
<polygon class="d" points="792.7,598.0 813.2,625.3 792.7,652.6 772.2,625.3"/>
<circle class="c" cx="794.6" cy="698.0" r="17.0"/>
<circle class="c" cx="796.1" cy="689.4" r="20.0"/>
<polygon class="d" points="796.7,602.6 809.0,618.9 796.7,635.3 784.4,618.9"/>
<circle class="c" cx="799.6" cy="696.0" r="17.0"/>
<polygon class="d" points="800.9,584.3 821.4,611.6 800.9,638.9 780.4,611.6"/>
<polygon class="d" points="802.7,603.2 815.0,619.6 802.7,636.0 790.4,619.6"/>
<circle class="c" cx="804.6" cy="699.9" r="17.0"/>
<polygon class="d" points="808.7,595.5 821.0,611.9 808.7,628.2 796.4,611.9"/>
<polygon class="d" points="809.1,594.7 829.6,622.0 809.1,649.3 788.6,622.0"/>
<circle class="c" cx="809.6" cy="701.0" r="17.0"/>
<circle class="c" cx="814.6" cy="700.9" r="17.0"/>
<polygon class="d" points="814.7,593.3 827.0,609.6 814.7,626.0 802.4,609.6"/>
<polygon class="d" points="817.2,574.7 837.7,602.0 817.2,629.3 796.7,602.0"/>
<circle class="c" cx="818.1" cy="697.1" r="20.0"/>
<circle class="c" cx="819.6" cy="704.2" r="17.0"/>
<polygon class="d" points="820.7,594.8 833.0,611.2 820.7,627.5 808.4,611.2"/>
<circle class="c" cx="822.0" cy="712.6" r="20.0"/>
<polygon class="d" points="824.8,577.6 845.3,604.9 824.8,632.2 804.3,604.9"/>
<polygon class="d" points="826.7,591.2 839.0,607.5 826.7,623.9 814.4,607.5"/>
<circle class="c" cx="829.6" cy="706.3" r="17.0"/>
<polygon class="d" points="832.7,593.0 845.0,609.4 832.7,625.8 820.4,609.4"/>
<polygon class="d" points="833.1,588.4 853.6,615.7 833.1,643.0 812.6,615.7"/>
<circle class="c" cx="834.6" cy="706.3" r="17.0"/>
<polygon class="d" points="838.7,593.9 851.0,610.2 838.7,626.6 826.4,610.2"/>
<circle class="c" cx="839.6" cy="706.5" r="17.0"/>
<polygon class="d" points="841.1,580.4 861.6,607.7 841.1,635.0 820.6,607.7"/>
<polygon class="d" points="844.7,597.9 857.0,614.3 844.7,630.7 832.4,614.3"/>
<circle class="c" cx="846.8" cy="707.6" r="20.0"/>
<polygon class="d" points="849.3,580.1 869.8,607.4 849.3,634.7 828.8,607.4"/>
<circle class="c" cx="849.6" cy="709.3" r="17.0"/>
<polygon class="d" points="850.7,597.4 863.0,613.8 850.7,630.2 838.4,613.8"/>
<circle class="c" cx="854.6" cy="710.1" r="17.0"/>
<polygon class="d" points="856.7,598.3 869.0,614.7 856.7,631.1 844.4,614.7"/>
<polygon class="d" points="857.4,599.1 877.9,626.4 857.4,653.7 836.9,626.4"/>
<circle class="c" cx="859.6" cy="710.6" r="17.0"/>
<circle class="c" cx="862.1" cy="709.5" r="20.0"/>
<polygon class="d" points="862.7,601.9 875.0,618.3 862.7,634.7 850.4,618.3"/>
<circle class="c" cx="864.6" cy="711.3" r="17.0"/>
<polygon class="d" points="865.4,582.9 885.9,610.2 865.4,637.5 844.9,610.2"/>
<circle class="c" cx="869.6" cy="713.8" r="17.0"/>
<circle class="c" cx="869.8" cy="715.4" r="20.0"/>
<circle class="c" cx="874.6" cy="711.3" r="17.0"/>
<circle class="c" cx="879.6" cy="710.0" r="17.0"/>
<circle class="c" cx="884.6" cy="707.8" r="17.0"/>
<circle class="c" cx="889.6" cy="706.3" r="17.0"/>
<circle class="c" cx="895.6" cy="702.4" r="20.0"/>
<circle class="c" cx="899.6" cy="704.4" r="17.0"/>
<polygon class="d" points="901.4,511.1 921.9,538.4 901.4,565.7 880.9,538.4"/>
<circle class="c" cx="904.6" cy="705.5" r="17.0"/>
<circle class="c" cx="906.1" cy="706.4" r="20.0"/>
<circle class="c" cx="909.6" cy="705.6" r="17.0"/>
<polygon class="d" points="910.4,577.2 930.9,604.5 910.4,631.8 889.9,604.5"/>
<polygon class="d" points="910.7,589.5 923.0,605.8 910.7,622.2 898.4,605.8"/>
<circle class="c" cx="913.8" cy="705.7" r="20.0"/>
<circle class="c" cx="914.6" cy="705.6" r="17.0"/>
<polygon class="d" points="916.7,590.9 929.0,607.3 916.7,623.7 904.4,607.3"/>
<polygon class="d" points="918.2,579.9 938.7,607.2 918.2,634.5 897.7,607.2"/>
<circle class="c" cx="919.6" cy="705.7" r="17.0"/>
<polygon class="d" points="922.7,593.3 935.0,609.7 922.7,626.1 910.4,609.7"/>
<circle class="c" cx="923.4" cy="706.4" r="20.0"/>
<circle class="c" cx="924.6" cy="705.7" r="17.0"/>
<polygon class="d" points="926.2,582.9 946.7,610.2 926.2,637.5 905.7,610.2"/>
<polygon class="d" points="928.7,595.0 941.0,611.4 928.7,627.8 916.4,611.4"/>
<circle class="c" cx="929.6" cy="705.1" r="17.0"/>
<polygon class="d" points="934.3,589.6 954.8,616.9 934.3,644.2 913.8,616.9"/>
<circle class="c" cx="934.6" cy="704.2" r="17.0"/>
<polygon class="d" points="934.7,597.9 947.0,614.3 934.7,630.6 922.4,614.3"/>
<circle class="c" cx="936.8" cy="703.2" r="20.0"/>
<circle class="c" cx="939.6" cy="703.8" r="17.0"/>
<polygon class="d" points="940.7,599.9 953.0,616.3 940.7,632.7 928.4,616.3"/>
<polygon class="d" points="942.5,588.4 963.0,615.7 942.5,643.0 922.0,615.7"/>
<circle class="c" cx="944.6" cy="703.9" r="17.0"/>
<polygon class="d" points="946.7,596.4 959.0,612.8 946.7,629.2 934.4,612.8"/>
<polygon class="t" points="946.8,272.6 970.3,312.8 923.3,312.8"/>
<circle class="c" cx="949.6" cy="703.2" r="17.0"/>
<polygon class="d" points="952.7,594.4 965.0,610.7 952.7,627.1 940.4,610.7"/>
<circle class="c" cx="954.6" cy="703.2" r="17.0"/>
<circle class="c" cx="954.9" cy="703.2" r="20.0"/>
<polygon class="d" points="958.8,578.5 979.3,605.8 958.8,633.1 938.3,605.8"/>
<circle class="c" cx="959.6" cy="707.3" r="17.0"/>
<circle class="c" cx="964.6" cy="709.6" r="17.0"/>
<polygon class="d" points="964.7,587.4 977.0,603.7 964.7,620.1 952.4,603.7"/>
<polygon class="d" points="966.8,572.4 987.3,599.7 966.8,627.0 946.3,599.7"/>
<circle class="c" cx="969.6" cy="709.4" r="17.0"/>
<polygon class="d" points="970.7,586.6 983.0,603.0 970.7,619.4 958.4,603.0"/>
<circle class="c" cx="974.6" cy="711.3" r="17.0"/>
<polygon class="d" points="975.0,578.5 995.5,605.8 975.0,633.1 954.5,605.8"/>
<polygon class="d" points="976.7,585.7 989.0,602.0 976.7,618.4 964.4,602.0"/>
<circle class="c" cx="978.9" cy="718.3" r="20.0"/>
<circle class="c" cx="979.6" cy="714.2" r="17.0"/>
<polygon class="d" points="982.7,573.4 1003.2,600.7 982.7,628.0 962.2,600.7"/>
<polygon class="d" points="982.7,590.2 995.0,606.6 982.7,623.0 970.4,606.6"/>
<circle class="c" cx="984.6" cy="712.5" r="17.0"/>
<polygon class="d" points="988.7,594.9 1001.0,611.3 988.7,627.6 976.4,611.3"/>
<circle class="c" cx="989.6" cy="708.8" r="17.0"/>
<circle class="c" cx="990.3" cy="701.3" r="20.0"/>
<polygon class="d" points="991.3,586.1 1011.8,613.4 991.3,640.7 970.8,613.4"/>
<circle class="c" cx="994.6" cy="712.2" r="17.0"/>
<polygon class="d" points="994.7,594.5 1007.0,610.9 994.7,627.2 982.4,610.9"/>
<polygon class="d" points="998.9,592.4 1019.4,619.7 998.9,647.0 978.4,619.7"/>
<circle class="c" cx="999.6" cy="714.3" r="17.0"/>
<polygon class="d" points="1000.7,597.9 1013.0,614.3 1000.7,630.6 988.4,614.3"/>
<circle class="c" cx="1002.8" cy="724.6" r="20.0"/>
<circle class="c" cx="1004.6" cy="715.3" r="17.0"/>
<polygon class="d" points="1006.6,582.4 1027.1,609.7 1006.6,637.0 986.1,609.7"/>
<polygon class="d" points="1006.7,597.0 1019.0,613.4 1006.7,629.8 994.4,613.4"/>
<circle class="c" cx="1009.6" cy="710.7" r="17.0"/>
<polygon class="d" points="1012.7,595.6 1025.0,611.9 1012.7,628.3 1000.4,611.9"/>
<circle class="c" cx="1014.6" cy="708.6" r="17.0"/>
<polygon class="d" points="1014.8,583.5 1035.3,610.8 1014.8,638.1 994.3,610.8"/>
<polygon class="d" points="1018.7,594.4 1031.0,610.8 1018.7,627.2 1006.4,610.8"/>
<circle class="c" cx="1019.0" cy="699.9" r="20.0"/>
<circle class="c" cx="1019.6" cy="705.3" r="17.0"/>
<polygon class="d" points="1022.9,588.0 1043.4,615.3 1022.9,642.6 1002.4,615.3"/>
<circle class="c" cx="1024.6" cy="706.7" r="17.0"/>
<polygon class="d" points="1024.7,594.8 1037.0,611.2 1024.7,627.5 1012.4,611.2"/>
<circle class="c" cx="1028.6" cy="708.7" r="20.0"/>
<circle class="c" cx="1029.6" cy="707.5" r="17.0"/>
<polygon class="d" points="1030.7,598.5 1043.0,614.9 1030.7,631.3 1018.4,614.9"/>
<polygon class="d" points="1031.1,580.1 1051.6,607.4 1031.1,634.7 1010.6,607.4"/>
<circle class="c" cx="1034.6" cy="709.1" r="17.0"/>
<polygon class="d" points="1036.7,598.5 1049.0,614.9 1036.7,631.3 1024.4,614.9"/>
<polygon class="d" points="1038.7,594.7 1059.2,622.0 1038.7,649.3 1018.2,622.0"/>
<circle class="c" cx="1039.6" cy="708.9" r="17.0"/>
<circle class="c" cx="1042.0" cy="701.8" r="20.0"/>
<polygon class="d" points="1042.7,598.5 1055.0,614.9 1042.7,631.3 1030.4,614.9"/>
<circle class="c" cx="1044.6" cy="711.3" r="17.0"/>
<polygon class="d" points="1046.8,588.0 1067.3,615.3 1046.8,642.6 1026.3,615.3"/>
<circle class="c" cx="1049.6" cy="714.8" r="17.0"/>
<circle class="c" cx="1051.6" cy="723.6" r="20.0"/>
<circle class="c" cx="1054.6" cy="715.2" r="17.0"/>
<circle class="c" cx="1055.0" cy="705.7" r="20.0"/>
<circle class="c" cx="1055.0" cy="723.1" r="20.0"/>
<circle class="c" cx="1064.6" cy="715.0" r="17.0"/>
<circle class="c" cx="1069.6" cy="710.3" r="17.0"/>
<circle class="c" cx="1074.6" cy="705.7" r="17.0"/>
<circle class="c" cx="1082.7" cy="705.9" r="20.0"/>
<circle class="c" cx="1084.6" cy="698.8" r="17.0"/>
<polygon class="d" points="1086.6,579.9 1107.1,607.2 1086.6,634.5 1066.1,607.2"/>
<circle class="c" cx="1088.5" cy="692.3" r="20.0"/>
<circle class="c" cx="1089.6" cy="695.5" r="17.0"/>
<polygon class="d" points="1090.7,594.3 1103.0,610.7 1090.7,627.1 1078.4,610.7"/>
<circle class="c" cx="1094.6" cy="697.9" r="17.0"/>
<polygon class="d" points="1094.6,593.8 1115.1,621.1 1094.6,648.4 1074.1,621.1"/>
<polygon class="d" points="1096.7,594.3 1109.0,610.7 1096.7,627.1 1084.4,610.7"/>
<circle class="c" cx="1099.0" cy="691.3" r="20.0"/>
<circle class="c" cx="1099.6" cy="696.9" r="17.0"/>
<polygon class="d" points="1102.7,596.1 1115.0,612.5 1102.7,628.9 1090.4,612.5"/>
<polygon class="d" points="1102.8,576.6 1123.3,603.9 1102.8,631.2 1082.3,603.9"/>
<circle class="c" cx="1104.6" cy="700.7" r="17.0"/>
<polygon class="d" points="1108.7,583.9 1121.0,600.3 1108.7,616.7 1096.4,600.3"/>
<circle class="c" cx="1109.6" cy="703.8" r="17.0"/>
<polygon class="d" points="1110.9,488.5 1131.4,515.8 1110.9,543.1 1090.4,515.8"/>
<circle class="c" cx="1114.6" cy="710.1" r="17.0"/>
<polygon class="d" points="1114.7,587.8 1127.0,604.2 1114.7,620.5 1102.4,604.2"/>
<circle class="c" cx="1116.2" cy="719.2" r="20.0"/>
<circle class="c" cx="1119.6" cy="710.1" r="17.0"/>
<polygon class="d" points="1119.7,569.3 1140.2,596.6 1119.7,623.9 1099.2,596.6"/>
<polygon class="d" points="1120.7,587.9 1133.0,604.3 1120.7,620.6 1108.4,604.3"/>
<circle class="c" cx="1123.9" cy="701.3" r="20.0"/>
<circle class="c" cx="1124.6" cy="708.9" r="17.0"/>
<polygon class="d" points="1126.7,585.2 1139.0,601.6 1126.7,618.0 1114.4,601.6"/>
<polygon class="d" points="1127.7,584.6 1148.2,611.9 1127.7,639.2 1107.2,611.9"/>
<circle class="c" cx="1129.6" cy="712.7" r="17.0"/>
<polygon class="d" points="1132.7,587.7 1145.0,604.1 1132.7,620.5 1120.4,604.1"/>
<circle class="c" cx="1134.6" cy="716.0" r="17.0"/>
<polygon class="d" points="1136.3,569.0 1156.8,596.3 1136.3,623.6 1115.8,596.3"/>
<circle class="c" cx="1139.6" cy="719.8" r="17.0"/>
<circle class="c" cx="1141.1" cy="725.0" r="20.0"/>
<circle class="c" cx="1144.6" cy="716.7" r="17.0"/>
<circle class="c" cx="1149.6" cy="717.1" r="17.0"/>
<polygon class="d" points="1152.0,553.7 1172.5,581.0 1152.0,608.3 1131.5,581.0"/>
<circle class="c" cx="1154.6" cy="713.4" r="17.0"/>
<circle class="c" cx="1159.6" cy="711.1" r="17.0"/>
<polygon class="d" points="1160.2,580.9 1180.7,608.2 1160.2,635.5 1139.7,608.2"/>
<polygon class="d" points="1162.7,588.1 1175.0,604.5 1162.7,620.8 1150.4,604.5"/>
<circle class="c" cx="1165.0" cy="704.7" r="20.0"/>
<polygon class="d" points="1168.3,573.4 1188.8,600.7 1168.3,628.0 1147.8,600.7"/>
<polygon class="d" points="1168.7,589.3 1181.0,605.7 1168.7,622.0 1156.4,605.7"/>
<circle class="c" cx="1169.6" cy="708.8" r="17.0"/>
<circle class="c" cx="1172.7" cy="712.2" r="20.0"/>
<polygon class="d" points="1174.7,590.2 1187.0,606.6 1174.7,623.0 1162.4,606.6"/>
<polygon class="d" points="1176.5,580.8 1197.0,608.1 1176.5,635.4 1156.0,608.1"/>
<circle class="c" cx="1179.6" cy="706.6" r="17.0"/>
<polygon class="d" points="1180.7,594.0 1193.0,610.3 1180.7,626.7 1168.4,610.3"/>
<circle class="c" cx="1184.6" cy="705.0" r="17.0"/>
<polygon class="d" points="1184.7,583.7 1205.2,611.0 1184.7,638.3 1164.2,611.0"/>
<polygon class="d" points="1186.7,597.2 1199.0,613.6 1186.7,629.9 1174.4,613.6"/>
<circle class="c" cx="1189.6" cy="702.8" r="17.0"/>
<polygon class="d" points="1192.7,598.4 1205.0,614.7 1192.7,631.1 1180.4,614.7"/>
<polygon class="d" points="1193.1,594.3 1213.6,621.6 1193.1,648.9 1172.6,621.6"/>
<circle class="c" cx="1194.6" cy="704.3" r="17.0"/>
<circle class="c" cx="1197.5" cy="697.4" r="20.0"/>
<polygon class="d" points="1198.7,597.2 1211.0,613.6 1198.7,630.0 1186.4,613.6"/>
<circle class="c" cx="1199.6" cy="703.0" r="17.0"/>
<polygon class="d" points="1200.8,584.3 1221.3,611.6 1200.8,638.9 1180.3,611.6"/>
<circle class="c" cx="1204.6" cy="707.6" r="17.0"/>
<polygon class="d" points="1204.7,595.8 1217.0,612.1 1204.7,628.5 1192.4,612.1"/>
<polygon class="d" points="1208.6,580.4 1229.1,607.7 1208.6,635.0 1188.1,607.7"/>
<circle class="c" cx="1209.6" cy="712.2" r="17.0"/>
<polygon class="d" points="1210.7,592.6 1223.0,609.0 1210.7,625.4 1198.4,609.0"/>
<circle class="c" cx="1213.8" cy="719.8" r="20.0"/>
<polygon class="d" points="1216.7,591.4 1229.0,607.8 1216.7,624.2 1204.4,607.8"/>
<polygon class="d" points="1217.1,580.4 1237.6,607.7 1217.1,635.0 1196.6,607.7"/>
<polygon class="d" points="1222.7,594.6 1235.0,611.0 1222.7,627.4 1210.4,611.0"/>
<circle class="c" cx="1224.6" cy="710.8" r="17.0"/>
<polygon class="d" points="1224.7,580.8 1245.2,608.1 1224.7,635.4 1204.2,608.1"/>
<polygon class="d" points="1228.7,596.9 1241.0,613.3 1228.7,629.7 1216.4,613.3"/>
<circle class="c" cx="1229.6" cy="707.7" r="17.0"/>
<polygon class="d" points="1232.9,589.9 1253.4,617.2 1232.9,644.5 1212.4,617.2"/>
<circle class="c" cx="1234.6" cy="713.5" r="17.0"/>
<polygon class="d" points="1234.7,598.8 1247.0,615.1 1234.7,631.5 1222.4,615.1"/>
<polygon class="d" points="1240.6,592.8 1261.1,620.1 1240.6,647.4 1220.1,620.1"/>
<polygon class="d" points="1240.7,605.8 1253.0,622.2 1240.7,638.5 1228.4,622.2"/>
<circle class="c" cx="1245.4" cy="695.5" r="20.0"/>
<polygon class="d" points="1246.7,608.2 1259.0,624.6 1246.7,641.0 1234.4,624.6"/>
<polygon class="d" points="1248.6,601.8 1269.1,629.1 1248.6,656.4 1228.1,629.1"/>
<circle class="c" cx="1253.0" cy="735.1" r="20.0"/>
<circle class="c" cx="1284.6" cy="701.8" r="20.0"/>
<polygon class="d" points="1288.4,586.1 1308.9,613.4 1288.4,640.7 1267.9,613.4"/>
<polygon class="d" points="1288.7,600.2 1301.0,616.6 1288.7,633.0 1276.4,616.6"/>
<circle class="c" cx="1289.6" cy="705.7" r="17.0"/>
<circle class="c" cx="1293.2" cy="711.6" r="20.0"/>
<circle class="c" cx="1294.6" cy="706.9" r="17.0"/>
<polygon class="d" points="1294.7,600.3 1307.0,616.7 1294.7,633.0 1282.4,616.7"/>
<polygon class="d" points="1296.5,592.4 1317.0,619.7 1296.5,647.0 1276.0,619.7"/>
<circle class="c" cx="1299.6" cy="704.6" r="17.0"/>
<polygon class="d" points="1300.7,601.4 1313.0,617.8 1300.7,634.1 1288.4,617.8"/>
<circle class="c" cx="1304.6" cy="704.3" r="17.0"/>
<polygon class="d" points="1304.7,589.6 1325.2,616.9 1304.7,644.2 1284.2,616.9"/>
<polygon class="d" points="1306.7,602.8 1319.0,619.2 1306.7,635.6 1294.4,619.2"/>
<circle class="c" cx="1308.5" cy="697.6" r="20.0"/>
<circle class="c" cx="1309.6" cy="703.0" r="17.0"/>
<polygon class="d" points="1312.3,593.8 1332.8,621.1 1312.3,648.4 1291.8,621.1"/>
<polygon class="d" points="1312.7,596.3 1325.0,612.7 1312.7,629.1 1300.4,612.7"/>
<circle class="c" cx="1314.6" cy="705.2" r="17.0"/>
<polygon class="d" points="1318.7,596.6 1331.0,613.0 1318.7,629.4 1306.4,613.0"/>
<circle class="c" cx="1319.6" cy="707.1" r="17.0"/>
<polygon class="d" points="1320.6,572.8 1341.1,600.1 1320.6,627.4 1300.1,600.1"/>
<circle class="c" cx="1324.6" cy="709.7" r="17.0"/>
<polygon class="d" points="1324.7,597.4 1337.0,613.8 1324.7,630.2 1312.4,613.8"/>
<circle class="c" cx="1324.8" cy="715.4" r="20.0"/>
<polygon class="d" points="1328.6,590.5 1349.1,617.8 1328.6,645.1 1308.1,617.8"/>
<circle class="c" cx="1329.6" cy="706.5" r="17.0"/>
<polygon class="d" points="1330.7,595.0 1343.0,611.4 1330.7,627.8 1318.4,611.4"/>
<circle class="c" cx="1332.4" cy="700.5" r="20.0"/>
<circle class="c" cx="1334.6" cy="705.9" r="17.0"/>
<polygon class="d" points="1336.2,589.0 1356.8,616.3 1336.2,643.6 1315.8,616.3"/>
<polygon class="d" points="1336.7,603.8 1349.0,620.2 1336.7,636.6 1324.4,620.2"/>
<circle class="c" cx="1339.6" cy="706.7" r="17.0"/>
<circle class="c" cx="1340.1" cy="709.7" r="20.0"/>
<polygon class="d" points="1342.7,596.6 1355.0,613.0 1342.7,629.4 1330.4,613.0"/>
<polygon class="d" points="1344.5,599.1 1365.0,626.4 1344.5,653.7 1324.0,626.4"/>
<circle class="c" cx="1344.6" cy="706.4" r="17.0"/>
<polygon class="d" points="1348.7,599.3 1361.0,615.7 1348.7,632.1 1336.4,615.7"/>
<circle class="c" cx="1349.6" cy="704.4" r="17.0"/>
<polygon class="d" points="1352.5,575.3 1373.0,602.6 1352.5,629.9 1332.0,602.6"/>
<circle class="c" cx="1353.5" cy="700.9" r="20.0"/>
<circle class="c" cx="1354.6" cy="704.1" r="17.0"/>
<polygon class="d" points="1354.7,599.2 1367.0,615.6 1354.7,631.9 1342.4,615.6"/>
<polygon class="d" points="1355.0,579.5 1375.5,606.8 1355.0,634.1 1334.5,606.8"/>
<circle class="c" cx="1358.8" cy="701.3" r="20.0"/>
<circle class="c" cx="1359.6" cy="705.8" r="17.0"/>
<polygon class="d" points="1360.4,599.1 1380.9,626.4 1360.4,653.7 1339.9,626.4"/>
<polygon class="d" points="1360.7,596.0 1373.0,612.4 1360.7,628.8 1348.4,612.4"/>
<circle class="c" cx="1364.6" cy="709.3" r="17.0"/>
<circle class="c" cx="1364.6" cy="713.5" r="20.0"/>
<polygon class="d" points="1366.7,598.2 1379.0,614.6 1366.7,630.9 1354.4,614.6"/>
<polygon class="d" points="1368.4,586.6 1388.9,613.9 1368.4,641.2 1347.9,613.9"/>
<circle class="c" cx="1369.6" cy="709.2" r="17.0"/>
<polygon class="d" points="1372.7,599.1 1385.0,615.5 1372.7,631.9 1360.4,615.5"/>
<circle class="c" cx="1374.6" cy="709.5" r="17.0"/>
<polygon class="d" points="1376.4,583.8 1396.9,611.1 1376.4,638.4 1355.9,611.1"/>
<polygon class="d" points="1378.7,595.5 1391.0,611.9 1378.7,628.2 1366.4,611.9"/>
<circle class="c" cx="1379.6" cy="712.3" r="17.0"/>
<circle class="c" cx="1380.8" cy="716.4" r="20.0"/>
<circle class="c" cx="1384.6" cy="712.3" r="17.0"/>
<polygon class="d" points="1384.7,583.3 1405.2,610.6 1384.7,637.9 1364.2,610.6"/>
<polygon class="d" points="1384.7,598.8 1397.0,615.2 1384.7,631.6 1372.4,615.2"/>
<circle class="c" cx="1389.6" cy="710.1" r="17.0"/>
<polygon class="d" points="1390.7,602.9 1403.0,619.3 1390.7,635.7 1378.4,619.3"/>
<polygon class="d" points="1392.7,596.6 1413.2,623.9 1392.7,651.2 1372.2,623.9"/>
<circle class="c" cx="1394.6" cy="707.8" r="17.0"/>
<circle class="c" cx="1396.1" cy="704.3" r="20.0"/>
<polygon class="d" points="1396.7,602.9 1409.0,619.3 1396.7,635.7 1384.4,619.3"/>
<circle class="c" cx="1399.6" cy="708.9" r="17.0"/>
<polygon class="d" points="1400.3,596.1 1420.8,623.4 1400.3,650.7 1379.8,623.4"/>
<polygon class="d" points="1402.7,607.3 1415.0,623.7 1402.7,640.0 1390.4,623.7"/>
<circle class="c" cx="1402.8" cy="711.0" r="20.0"/>
<circle class="c" cx="1404.6" cy="708.7" r="17.0"/>
<polygon class="d" points="1408.6,562.7 1429.1,590.0 1408.6,617.3 1388.1,590.0"/>
<circle class="c" cx="1409.6" cy="708.1" r="17.0"/>
<circle class="c" cx="1412.4" cy="704.7" r="20.0"/>
<circle class="c" cx="1414.6" cy="708.5" r="17.0"/>
<polygon class="d" points="1414.7,613.3 1427.0,629.7 1414.7,646.1 1402.4,629.7"/>
<circle class="c" cx="1419.6" cy="711.6" r="17.0"/>
<circle class="c" cx="1420.1" cy="714.5" r="20.0"/>
<polygon class="d" points="1420.7,609.0 1433.0,625.4 1420.7,641.8 1408.4,625.4"/>
<polygon class="d" points="1424.3,602.4 1444.8,629.7 1424.3,657.0 1403.8,629.7"/>
<circle class="c" cx="1424.6" cy="709.4" r="17.0"/>
<polygon class="d" points="1426.7,609.0 1439.0,625.4 1426.7,641.8 1414.4,625.4"/>
<circle class="c" cx="1429.6" cy="707.5" r="17.0"/>
<polygon class="d" points="1431.9,593.8 1452.4,621.1 1431.9,648.4 1411.4,621.1"/>
<polygon class="d" points="1432.7,604.5 1445.0,620.9 1432.7,637.3 1420.4,620.9"/>
<circle class="c" cx="1434.6" cy="709.0" r="17.0"/>
<polygon class="d" points="1438.7,599.1 1451.0,615.5 1438.7,631.9 1426.4,615.5"/>
<circle class="c" cx="1439.6" cy="707.5" r="17.0"/>
<polygon class="d" points="1440.1,584.6 1460.6,611.9 1440.1,639.2 1419.6,611.9"/>
<circle class="c" cx="1444.0" cy="700.5" r="20.0"/>
<circle class="c" cx="1444.6" cy="705.7" r="17.0"/>
<polygon class="d" points="1444.7,596.7 1457.0,613.1 1444.7,629.4 1432.4,613.1"/>
<polygon class="d" points="1448.2,586.1 1468.7,613.4 1448.2,640.7 1427.7,613.4"/>
<circle class="c" cx="1449.6" cy="711.2" r="17.0"/>
<polygon class="d" points="1450.7,594.0 1463.0,610.4 1450.7,626.8 1438.4,610.4"/>
<circle class="c" cx="1451.6" cy="716.0" r="20.0"/>
<circle class="c" cx="1454.6" cy="712.3" r="17.0"/>
<polygon class="d" points="1455.8,578.5 1476.3,605.8 1455.8,633.1 1435.3,605.8"/>
<polygon class="d" points="1456.7,597.8 1469.0,614.2 1456.7,630.6 1444.4,614.2"/>
<circle class="c" cx="1459.6" cy="712.6" r="17.0"/>
<polygon class="d" points="1462.7,598.2 1475.0,614.6 1462.7,631.0 1450.4,614.6"/>
<polygon class="d" points="1464.1,596.1 1484.6,623.4 1464.1,650.7 1443.6,623.4"/>
<circle class="c" cx="1464.6" cy="713.1" r="17.0"/>
<circle class="c" cx="1466.0" cy="710.5" r="20.0"/>
<circle class="c" cx="1467.9" cy="719.2" r="20.0"/>
<circle class="c" cx="1479.6" cy="714.1" r="17.0"/>
<circle class="c" cx="1484.6" cy="712.5" r="17.0"/>
<circle class="c" cx="1489.6" cy="712.2" r="17.0"/>
<circle class="c" cx="1499.5" cy="711.2" r="20.0"/>
<circle class="c" cx="1499.6" cy="711.4" r="17.0"/>
<polygon class="d" points="1502.3,578.0 1522.8,605.3 1502.3,632.6 1481.8,605.3"/>
<circle class="c" cx="1504.6" cy="710.9" r="17.0"/>
<polygon class="d" points="1504.7,592.7 1517.0,609.0 1504.7,625.4 1492.4,609.0"/>
<circle class="c" cx="1506.1" cy="708.2" r="20.0"/>
<circle class="c" cx="1509.6" cy="710.0" r="17.0"/>
<polygon class="d" points="1510.4,585.5 1530.9,612.8 1510.4,640.1 1489.9,612.8"/>
<polygon class="d" points="1510.7,595.7 1523.0,612.1 1510.7,628.5 1498.4,612.1"/>
<circle class="c" cx="1514.6" cy="710.8" r="17.0"/>
<polygon class="d" points="1516.7,595.3 1529.0,611.7 1516.7,628.0 1504.4,611.7"/>
<polygon class="d" points="1518.6,590.9 1539.1,618.2 1518.6,645.5 1498.1,618.2"/>
<circle class="c" cx="1519.6" cy="712.3" r="17.0"/>
<circle class="c" cx="1521.5" cy="720.2" r="20.0"/>
<polygon class="d" points="1522.7,597.2 1535.0,613.6 1522.7,630.0 1510.4,613.6"/>
<circle class="c" cx="1524.6" cy="707.6" r="17.0"/>
<polygon class="d" points="1526.6,576.6 1547.1,603.9 1526.6,631.2 1506.1,603.9"/>
<circle class="c" cx="1528.2" cy="699.0" r="20.0"/>
<polygon class="d" points="1528.7,597.5 1541.0,613.9 1528.7,630.3 1516.4,613.9"/>
<circle class="c" cx="1529.6" cy="703.2" r="17.0"/>
<circle class="c" cx="1534.6" cy="704.6" r="17.0"/>
<polygon class="d" points="1534.7,596.7 1547.0,613.1 1534.7,629.4 1522.4,613.1"/>
<polygon class="d" points="1534.8,592.2 1555.3,619.5 1534.8,646.8 1514.3,619.5"/>
<circle class="c" cx="1539.6" cy="703.3" r="17.0"/>
<polygon class="d" points="1540.7,601.2 1553.0,617.6 1540.7,634.0 1528.4,617.6"/>
<polygon class="d" points="1543.1,588.4 1563.6,615.7 1543.1,643.0 1522.6,615.7"/>
<circle class="c" cx="1544.6" cy="698.2" r="17.0"/>
<circle class="c" cx="1546.3" cy="690.4" r="20.0"/>
<polygon class="d" points="1546.7,594.3 1559.0,610.7 1546.7,627.1 1534.4,610.7"/>
<circle class="c" cx="1549.6" cy="701.4" r="17.0"/>
<polygon class="d" points="1551.1,590.3 1571.6,617.6 1551.1,644.9 1530.6,617.6"/>
<polygon class="d" points="1552.7,591.4 1565.0,607.8 1552.7,624.1 1540.4,607.8"/>
<circle class="c" cx="1554.6" cy="708.7" r="17.0"/>
<circle class="c" cx="1554.9" cy="717.3" r="20.0"/>
<polygon class="d" points="1558.7,585.7 1571.0,602.1 1558.7,618.5 1546.4,602.1"/>
<polygon class="d" points="1558.8,562.7 1579.3,590.0 1558.8,617.3 1538.3,590.0"/>
<circle class="c" cx="1559.6" cy="705.8" r="17.0"/>
<circle class="c" cx="1564.6" cy="704.7" r="17.0"/>
<polygon class="d" points="1564.7,588.3 1577.0,604.7 1564.7,621.1 1552.4,604.7"/>
<polygon class="d" points="1566.4,571.5 1586.9,598.8 1566.4,626.1 1545.9,598.8"/>
<circle class="c" cx="1569.6" cy="704.6" r="17.0"/>
<polygon class="d" points="1570.7,592.0 1583.0,608.3 1570.7,624.7 1558.4,608.3"/>
<circle class="c" cx="1571.2" cy="699.0" r="20.0"/>
<circle class="c" cx="1574.6" cy="704.5" r="17.0"/>
<polygon class="d" points="1575.0,598.2 1595.5,625.5 1575.0,652.8 1554.5,625.5"/>
<polygon class="d" points="1576.7,598.1 1589.0,614.5 1576.7,630.8 1564.4,614.5"/>
<circle class="c" cx="1579.6" cy="704.2" r="17.0"/>
<polygon class="d" points="1582.7,591.9 1603.2,619.2 1582.7,646.5 1562.2,619.2"/>
<polygon class="d" points="1582.7,605.3 1595.0,621.7 1582.7,638.1 1570.4,621.7"/>
<circle class="c" cx="1584.6" cy="706.4" r="17.0"/>
<circle class="c" cx="1585.5" cy="711.0" r="20.0"/>
<polygon class="d" points="1588.7,599.9 1601.0,616.2 1588.7,632.6 1576.4,616.2"/>
<circle class="c" cx="1589.6" cy="706.2" r="17.0"/>
<polygon class="d" points="1590.9,593.2 1611.4,620.5 1590.9,647.8 1570.4,620.5"/>
<circle class="c" cx="1594.6" cy="704.4" r="17.0"/>
<polygon class="d" points="1594.7,598.6 1607.0,615.0 1594.7,631.4 1582.4,615.0"/>
<circle class="c" cx="1595.1" cy="699.0" r="20.0"/>
<polygon class="d" points="1598.9,581.8 1619.4,609.1 1598.9,636.4 1578.4,609.1"/>
<circle class="c" cx="1599.6" cy="707.1" r="17.0"/>
<polygon class="d" points="1600.7,597.2 1613.0,613.6 1600.7,630.0 1588.4,613.6"/>
<circle class="c" cx="1604.6" cy="710.1" r="17.0"/>
<polygon class="d" points="1606.7,594.9 1619.0,611.3 1606.7,627.6 1594.4,611.3"/>
<polygon class="d" points="1607.2,583.9 1627.7,611.2 1607.2,638.5 1586.7,611.2"/>
<circle class="c" cx="1609.6" cy="711.2" r="17.0"/>
<circle class="c" cx="1611.4" cy="718.7" r="20.0"/>
<polygon class="d" points="1612.7,602.2 1625.0,618.6 1612.7,634.9 1600.4,618.6"/>
<circle class="c" cx="1614.6" cy="711.1" r="17.0"/>
<polygon class="d" points="1614.6,586.2 1635.1,613.5 1614.6,640.8 1594.1,613.5"/>
<polygon class="d" points="1618.7,604.3 1631.0,620.7 1618.7,637.1 1606.4,620.7"/>
<circle class="c" cx="1619.6" cy="710.1" r="17.0"/>
<polygon class="d" points="1622.9,603.7 1643.4,631.0 1622.9,658.3 1602.4,631.0"/>
<circle class="c" cx="1624.6" cy="705.9" r="17.0"/>
<polygon class="d" points="1624.7,607.5 1637.0,623.9 1624.7,640.3 1612.4,623.9"/>
<circle class="c" cx="1626.7" cy="698.0" r="20.0"/>
<circle class="c" cx="1629.6" cy="706.9" r="17.0"/>
<polygon class="d" points="1630.5,599.9 1651.0,627.2 1630.5,654.5 1610.0,627.2"/>
<polygon class="d" points="1630.7,610.4 1643.0,626.7 1630.7,643.1 1618.4,626.7"/>
<circle class="c" cx="1634.3" cy="717.3" r="20.0"/>
<circle class="c" cx="1634.6" cy="709.7" r="17.0"/>
<polygon class="d" points="1636.7,603.2 1649.0,619.6 1636.7,636.0 1624.4,619.6"/>
<polygon class="d" points="1638.2,594.7 1658.7,622.0 1638.2,649.3 1617.7,622.0"/>
<circle class="c" cx="1639.6" cy="705.7" r="17.0"/>
<polygon class="d" points="1642.7,603.6 1655.0,620.0 1642.7,636.4 1630.4,620.0"/>
<circle class="c" cx="1643.9" cy="699.0" r="20.0"/>
<circle class="c" cx="1644.6" cy="703.5" r="17.0"/>
<polygon class="d" points="1646.4,582.4 1666.9,609.7 1646.4,637.0 1625.9,609.7"/>
<polygon class="d" points="1648.7,601.2 1661.0,617.6 1648.7,634.0 1636.4,617.6"/>
<circle class="c" cx="1649.6" cy="706.2" r="17.0"/>
<circle class="c" cx="1654.6" cy="706.2" r="17.0"/>
<rect class="q" x="1638.8" y="333.2" width="31.6" height="31.6"/>
<polygon class="d" points="1654.7,604.9 1667.0,621.2 1654.7,637.6 1642.4,621.2"/>
<polygon class="d" points="1655.0,593.8 1675.5,621.1 1655.0,648.4 1634.5,621.1"/>
<circle class="c" cx="1659.6" cy="704.8" r="17.0"/>
<polygon class="d" points="1660.7,608.7 1673.0,625.1 1660.7,641.4 1648.4,625.1"/>
<polygon class="d" points="1662.3,605.6 1682.8,632.9 1662.3,660.2 1641.8,632.9"/>
<circle class="c" cx="1664.6" cy="706.1" r="17.0"/>
<circle class="c" cx="1666.5" cy="709.7" r="20.0"/>
<polygon class="d" points="1666.7,609.5 1679.0,625.9 1666.7,642.3 1654.4,625.9"/>
<circle class="c" cx="1669.6" cy="706.1" r="17.0"/>
<polygon class="d" points="1669.7,593.8 1690.2,621.1 1669.7,648.4 1649.2,621.1"/>
<polygon class="d" points="1672.7,611.0 1685.0,627.4 1672.7,643.8 1660.4,627.4"/>
<circle class="c" cx="1674.1" cy="701.8" r="20.0"/>
<polygon class="d" points="1678.0,601.0 1698.5,628.3 1678.0,655.6 1657.5,628.3"/>
<polygon class="d" points="1678.7,609.2 1691.0,625.6 1678.7,641.9 1666.4,625.6"/>
<circle class="c" cx="1679.6" cy="707.5" r="17.0"/>
<circle class="c" cx="1684.6" cy="709.3" r="17.0"/>
<polygon class="d" points="1684.7,606.2 1697.0,622.6 1684.7,638.9 1672.4,622.6"/>
<polygon class="d" points="1685.6,599.9 1706.1,627.2 1685.6,654.5 1665.1,627.2"/>
<circle class="c" cx="1689.6" cy="711.6" r="17.0"/>
<polygon class="d" points="1690.7,606.2 1703.0,622.6 1690.7,638.9 1678.4,622.6"/>
<polygon class="d" points="1693.6,584.8 1714.1,612.1 1693.6,639.4 1673.1,612.1"/>
<circle class="c" cx="1694.6" cy="714.1" r="17.0"/>
<circle class="c" cx="1698.0" cy="717.9" r="20.0"/>
<circle class="c" cx="1746.8" cy="712.6" r="20.0"/>
<circle class="c" cx="1749.6" cy="706.9" r="17.0"/>
<polygon class="d" points="1751.2,575.1 1771.7,602.4 1751.2,629.7 1730.7,602.4"/>
<circle class="c" cx="1754.6" cy="702.2" r="17.0"/>
<circle class="c" cx="1755.4" cy="698.6" r="20.0"/>
<polygon class="d" points="1756.7,594.6 1769.0,611.0 1756.7,627.4 1744.4,611.0"/>
<polygon class="d" points="1759.3,579.9 1779.8,607.2 1759.3,634.5 1738.8,607.2"/>
<circle class="c" cx="1759.6" cy="703.9" r="17.0"/>
<polygon class="d" points="1762.7,598.6 1775.0,615.0 1762.7,631.4 1750.4,615.0"/>
<circle class="c" cx="1764.6" cy="704.3" r="17.0"/>
<polygon class="d" points="1766.9,596.1 1787.4,623.4 1766.9,650.7 1746.4,623.4"/>
<polygon class="d" points="1768.7,602.9 1781.0,619.2 1768.7,635.6 1756.4,619.2"/>
<circle class="c" cx="1769.6" cy="702.7" r="17.0"/>
<circle class="c" cx="1771.7" cy="699.0" r="20.0"/>
<circle class="c" cx="1774.6" cy="704.4" r="17.0"/>
<polygon class="d" points="1774.7,608.9 1787.0,625.3 1774.7,641.7 1762.4,625.3"/>
<polygon class="d" points="1775.2,599.9 1795.7,627.2 1775.2,654.5 1754.7,627.2"/>
<circle class="c" cx="1779.4" cy="714.1" r="20.0"/>
<circle class="c" cx="1779.6" cy="709.0" r="17.0"/>
<polygon class="d" points="1780.7,597.5 1793.0,613.9 1780.7,630.3 1768.4,613.9"/>
<circle class="c" cx="1784.6" cy="707.9" r="17.0"/>
<polygon class="d" points="1786.7,594.9 1799.0,611.2 1786.7,627.6 1774.4,611.2"/>
<circle class="c" cx="1789.6" cy="706.6" r="17.0"/>
<circle class="c" cx="1790.8" cy="703.2" r="20.0"/>
<polygon class="d" points="1791.2,573.4 1811.7,600.7 1791.2,628.0 1770.7,600.7"/>
<polygon class="d" points="1792.7,586.9 1805.0,603.3 1792.7,619.6 1780.4,603.3"/>
<circle class="c" cx="1794.6" cy="708.9" r="17.0"/>
<polygon class="d" points="1798.7,587.7 1811.0,604.1 1798.7,620.5 1786.4,604.1"/>
<polygon class="d" points="1799.5,578.5 1820.0,605.8 1799.5,633.1 1779.0,605.8"/>
<circle class="c" cx="1799.6" cy="710.9" r="17.0"/>
<circle class="c" cx="1804.2" cy="715.4" r="20.0"/>
<circle class="c" cx="1804.6" cy="712.5" r="17.0"/>
<polygon class="d" points="1804.7,594.2 1817.0,610.6 1804.7,627.0 1792.4,610.6"/>
<polygon class="d" points="1807.5,578.5 1828.0,605.8 1807.5,633.1 1787.0,605.8"/>
<circle class="c" cx="1809.6" cy="711.9" r="17.0"/>
<polygon class="d" points="1810.7,596.1 1823.0,612.5 1810.7,628.9 1798.4,612.5"/>
<circle class="c" cx="1814.6" cy="712.8" r="17.0"/>
<polygon class="d" points="1815.1,592.8 1835.6,620.1 1815.1,647.4 1794.6,620.1"/>
<polygon class="d" points="1816.7,598.3 1829.0,614.7 1816.7,631.1 1804.4,614.7"/>
<circle class="c" cx="1819.5" cy="709.5" r="20.0"/>
<circle class="c" cx="1819.6" cy="711.7" r="17.0"/>
<polygon class="d" points="1822.7,598.1 1835.0,614.5 1822.7,630.9 1810.4,614.5"/>
<polygon class="d" points="1823.4,590.9 1843.9,618.2 1823.4,645.5 1802.9,618.2"/>
<circle class="c" cx="1824.6" cy="712.7" r="17.0"/>
<circle class="c" cx="1827.2" cy="716.0" r="20.0"/>
<polygon class="d" points="1828.7,594.7 1841.0,611.0 1828.7,627.4 1816.4,611.0"/>
<circle class="c" cx="1829.6" cy="712.5" r="17.0"/>
<polygon class="d" points="1831.0,578.0 1851.5,605.3 1831.0,632.6 1810.5,605.3"/>
<circle class="c" cx="1834.6" cy="711.7" r="17.0"/>
<polygon class="d" points="1834.7,594.3 1847.0,610.7 1834.7,627.1 1822.4,610.7"/>
<polygon class="d" points="1839.2,582.4 1859.7,609.7 1839.2,637.0 1818.7,609.7"/>
<circle class="c" cx="1839.6" cy="710.3" r="17.0"/>
<polygon class="d" points="1840.7,591.8 1853.0,608.2 1840.7,624.6 1828.4,608.2"/>
<circle class="c" cx="1843.5" cy="706.6" r="20.0"/>
<circle class="c" cx="1844.6" cy="709.7" r="17.0"/>
<polygon class="d" points="1846.7,598.2 1859.0,614.6 1846.7,631.0 1834.4,614.6"/>
<polygon class="d" points="1847.3,582.4 1867.8,609.7 1847.3,637.0 1826.8,609.7"/>
<circle class="c" cx="1849.6" cy="710.6" r="17.0"/>
<circle class="c" cx="1852.1" cy="714.5" r="20.0"/>
<polygon class="d" points="1852.7,599.7 1865.0,616.1 1852.7,632.5 1840.4,616.1"/>
<circle class="c" cx="1854.6" cy="710.7" r="17.0"/>
<polygon class="d" points="1854.9,597.2 1875.4,624.5 1854.9,651.8 1834.4,624.5"/>
<polygon class="d" points="1858.7,597.9 1871.0,614.3 1858.7,630.7 1846.4,614.3"/>
<circle class="c" cx="1859.6" cy="709.3" r="17.0"/>
<circle class="c" cx="1859.7" cy="707.6" r="20.0"/>
<polygon class="d" points="1863.2,586.8 1883.7,614.1 1863.2,641.4 1842.7,614.1"/>
<circle class="c" cx="1864.6" cy="710.0" r="17.0"/>
<polygon class="d" points="1864.7,599.5 1877.0,615.9 1864.7,632.3 1852.4,615.9"/>
<circle class="c" cx="1869.6" cy="711.2" r="17.0"/>
<polygon class="d" points="1870.7,594.7 1883.0,611.0 1870.7,627.4 1858.4,611.0"/>
<polygon class="d" points="1871.2,581.8 1891.7,609.1 1871.2,636.4 1850.7,609.1"/>
<circle class="c" cx="1874.6" cy="711.1" r="17.0"/>
<circle class="c" cx="1875.0" cy="711.0" r="20.0"/>
<polygon class="d" points="1876.7,593.1 1889.0,609.5 1876.7,625.9 1864.4,609.5"/>
<polygon class="d" points="1878.9,582.7 1899.4,610.0 1878.9,637.3 1858.4,610.0"/>
<circle class="c" cx="1879.6" cy="711.4" r="17.0"/>
<circle class="c" cx="1882.7" cy="711.4" r="20.0"/>
<polygon class="d" points="1882.7,596.8 1895.0,613.2 1882.7,629.6 1870.4,613.2"/>
<circle class="c" cx="1884.6" cy="712.2" r="17.0"/>
<polygon class="d" points="1887.1,525.8 1907.6,553.1 1887.1,580.4 1866.6,553.1"/>
<polygon class="d" points="1888.7,598.9 1901.0,615.2 1888.7,631.6 1876.4,615.2"/>
<circle class="c" cx="1889.4" cy="714.1" r="20.0"/>
<circle class="c" cx="1889.6" cy="713.8" r="17.0"/>
<circle class="c" cx="1894.6" cy="714.3" r="17.0"/>
<polygon class="d" points="1895.7,593.2 1916.2,620.5 1895.7,647.8 1875.2,620.5"/>
<circle class="c" cx="1899.6" cy="716.0" r="17.0"/>
<polygon class="d" points="1900.7,595.3 1913.0,611.7 1900.7,628.0 1888.4,611.7"/>
<polygon class="d" points="1903.3,574.7 1923.8,602.0 1903.3,629.3 1882.8,602.0"/>
<circle class="c" cx="1904.6" cy="712.6" r="17.0"/>
<polygon class="d" points="1906.7,595.3 1919.0,611.7 1906.7,628.0 1894.4,611.7"/>
<circle class="c" cx="1907.6" cy="720.2" r="20.0"/>
<circle class="c" cx="1909.6" cy="712.0" r="17.0"/>
<polygon class="d" points="1911.4,585.2 1931.9,612.5 1911.4,639.8 1890.9,612.5"/>
<circle class="c" cx="1914.6" cy="704.6" r="17.0"/>
<polygon class="t" points="1916.2,427.7 1939.7,467.9 1892.7,467.9"/>
<polygon class="d" points="1918.7,596.1 1931.0,612.5 1918.7,628.8 1906.4,612.5"/>
<circle class="c" cx="1919.6" cy="697.5" r="17.0"/>
<circle class="c" cx="1921.9" cy="688.5" r="20.0"/>
<circle class="c" cx="1924.6" cy="696.1" r="17.0"/>
<polygon class="d" points="1926.1,585.2 1946.6,612.5 1926.1,639.8 1905.6,612.5"/>
<circle class="c" cx="1929.6" cy="691.6" r="17.0"/>
<polygon class="d" points="1930.7,597.6 1943.0,614.0 1930.7,630.4 1918.4,614.0"/>
<polygon class="d" points="1934.3,585.2 1954.8,612.5 1934.3,639.8 1913.8,612.5"/>
<circle class="c" cx="1934.6" cy="697.0" r="17.0"/>
<polygon class="d" points="1936.7,597.6 1949.0,614.0 1936.7,630.4 1924.4,614.0"/>
<circle class="c" cx="1939.6" cy="697.9" r="17.0"/>
<circle class="c" cx="1942.0" cy="696.1" r="20.0"/>
<polygon class="d" points="1942.6,589.6 1963.1,616.9 1942.6,644.2 1922.1,616.9"/>
<polygon class="d" points="1942.7,602.5 1955.0,618.8 1942.7,635.2 1930.4,618.8"/>
<circle class="c" cx="1944.6" cy="701.0" r="17.0"/>
<polygon class="d" points="1948.7,605.6 1961.0,622.0 1948.7,638.4 1936.4,622.0"/>
<circle class="c" cx="1949.6" cy="704.7" r="17.0"/>
<polygon class="d" points="1949.8,599.8 1970.3,627.1 1949.8,654.4 1929.3,627.1"/>
<circle class="c" cx="1953.5" cy="710.6" r="20.0"/>
<circle class="c" cx="1996.1" cy="708.2" r="20.0"/>
<circle class="c" cx="1999.6" cy="716.9" r="17.0"/>
<polygon class="d" points="2000.9,578.5 2021.4,605.8 2000.9,633.1 1980.4,605.8"/>
<circle class="c" cx="2000.9" cy="721.2" r="20.0"/>
<polygon class="d" points="2002.7,586.7 2015.0,603.1 2002.7,619.5 1990.4,603.1"/>
<circle class="c" cx="2004.6" cy="717.7" r="17.0"/>
<polygon class="d" points="2008.7,584.4 2021.0,600.8 2008.7,617.2 1996.4,600.8"/>
<polygon class="d" points="2009.0,573.1 2029.5,600.4 2009.0,627.7 1988.5,600.4"/>
<circle class="c" cx="2009.6" cy="717.9" r="17.0"/>
<circle class="c" cx="2014.3" cy="712.8" r="20.0"/>
<circle class="c" cx="2014.6" cy="717.6" r="17.0"/>
<polygon class="d" points="2014.7,578.3 2027.0,594.6 2014.7,611.0 2002.4,594.6"/>
<polygon class="d" points="2016.6,569.0 2037.1,596.3 2016.6,623.6 1996.1,596.3"/>
<circle class="c" cx="2019.6" cy="722.5" r="17.0"/>
<polygon class="d" points="2020.7,582.0 2033.0,598.4 2020.7,614.8 2008.4,598.4"/>
<circle class="c" cx="2021.0" cy="731.7" r="20.0"/>
<circle class="c" cx="2024.6" cy="721.6" r="17.0"/>
<polygon class="d" points="2024.8,560.0 2045.3,587.3 2024.8,614.6 2004.3,587.3"/>
<polygon class="d" points="2026.7,581.3 2039.0,597.7 2026.7,614.1 2014.4,597.7"/>
<circle class="c" cx="2029.6" cy="718.6" r="17.0"/>
<polygon class="d" points="2032.7,585.5 2045.0,601.8 2032.7,618.2 2020.4,601.8"/>
<polygon class="d" points="2033.1,582.3 2053.6,609.6 2033.1,636.9 2012.6,609.6"/>
<circle class="c" cx="2034.6" cy="715.4" r="17.0"/>
<circle class="c" cx="2037.3" cy="709.9" r="20.0"/>
<polygon class="d" points="2038.7,593.7 2051.0,610.1 2038.7,626.5 2026.4,610.1"/>
<circle class="c" cx="2039.6" cy="715.1" r="17.0"/>
<polygon class="d" points="2041.1,581.3 2061.6,608.6 2041.1,635.9 2020.6,608.6"/>
<circle class="c" cx="2044.6" cy="712.6" r="17.0"/>
<polygon class="d" points="2044.7,589.9 2057.0,606.3 2044.7,622.7 2032.4,606.3"/>
<polygon class="d" points="2049.1,584.8 2069.6,612.1 2049.1,639.4 2028.6,612.1"/>
<circle class="c" cx="2049.6" cy="713.1" r="17.0"/>
<polygon class="d" points="2050.7,588.8 2063.0,605.2 2050.7,621.6 2038.4,605.2"/>
<circle class="c" cx="2054.6" cy="714.0" r="17.0"/>
<polygon class="d" points="2056.7,587.9 2069.0,604.3 2056.7,620.6 2044.4,604.3"/>
<polygon class="d" points="2057.0,567.6 2077.5,594.9 2057.0,622.2 2036.5,594.9"/>
<circle class="c" cx="2058.3" cy="717.0" r="20.0"/>
<circle class="c" cx="2059.6" cy="715.2" r="17.0"/>
<polygon class="d" points="2062.7,584.0 2075.0,600.3 2062.7,616.7 2050.4,600.3"/>
<circle class="c" cx="2064.6" cy="713.5" r="17.0"/>
<polygon class="d" points="2065.0,578.5 2085.5,605.8 2065.0,633.1 2044.5,605.8"/>
<polygon class="d" points="2068.7,590.7 2081.0,607.1 2068.7,623.4 2056.4,607.1"/>
<circle class="c" cx="2069.6" cy="711.9" r="17.0"/>
<circle class="c" cx="2069.8" cy="710.5" r="20.0"/>
<polygon class="d" points="2073.2,552.7 2093.7,580.0 2073.2,607.3 2052.7,580.0"/>
<circle class="c" cx="2074.6" cy="710.5" r="17.0"/>
<polygon class="d" points="2074.7,596.7 2087.0,613.1 2074.7,629.5 2062.4,613.1"/>
<circle class="c" cx="2079.6" cy="709.7" r="17.0"/>
<polygon class="d" points="2081.3,593.2 2101.8,620.5 2081.3,647.8 2060.8,620.5"/>
<circle class="c" cx="2084.6" cy="706.3" r="17.0"/>
<polygon class="d" points="2086.7,594.1 2099.0,610.5 2086.7,626.9 2074.4,610.5"/>
<circle class="c" cx="2089.6" cy="705.2" r="17.0"/>
<polygon class="d" points="2092.7,590.4 2105.0,606.8 2092.7,623.2 2080.4,606.8"/>
<circle class="c" cx="2093.7" cy="703.4" r="20.0"/>
<polygon class="d" points="2097.5,573.2 2118.0,600.5 2097.5,627.8 2077.0,600.5"/>
<polygon class="d" points="2098.7,583.6 2111.0,600.0 2098.7,616.4 2086.4,600.0"/>
<circle class="c" cx="2099.6" cy="708.6" r="17.0"/>
<circle class="c" cx="2104.6" cy="711.2" r="17.0"/>
<polygon class="d" points="2104.7,583.6 2117.0,600.0 2104.7,616.4 2092.4,600.0"/>
<polygon class="d" points="2105.6,572.2 2126.1,599.5 2105.6,626.8 2085.1,599.5"/>
<circle class="c" cx="2109.6" cy="713.8" r="17.0"/>
<circle class="c" cx="2114.6" cy="716.5" r="17.0"/>
<polygon class="d" points="2116.7,591.3 2129.0,607.7 2116.7,624.1 2104.4,607.7"/>
<circle class="c" cx="2117.6" cy="720.2" r="20.0"/>
<circle class="c" cx="2119.6" cy="715.0" r="17.0"/>
<rect class="q" x="2106.1" y="621.9" width="31.6" height="31.6"/>
<circle class="c" cx="2124.6" cy="712.0" r="17.0"/>
<rect class="q" x="2109.9" y="668.8" width="31.6" height="31.6"/>
<polygon class="d" points="2129.5,588.6 2150.0,615.9 2129.5,643.2 2109.0,615.9"/>
<circle class="c" cx="2129.6" cy="709.8" r="17.0"/>
<circle class="c" cx="2134.6" cy="708.4" r="17.0"/>
<polygon class="d" points="2134.7,594.2 2147.0,610.6 2134.7,626.9 2122.4,610.6"/>
<circle class="c" cx="2136.8" cy="712.2" r="20.0"/>
<polygon class="d" points="2137.7,576.0 2158.2,603.3 2137.7,630.6 2117.2,603.3"/>
<circle class="c" cx="2139.6" cy="705.0" r="17.0"/>
<circle class="c" cx="2140.6" cy="696.7" r="20.0"/>
<polygon class="d" points="2140.7,594.2 2153.0,610.6 2140.7,626.9 2128.4,610.6"/>
<circle class="c" cx="2144.6" cy="706.1" r="17.0"/>
<polygon class="d" points="2145.8,585.2 2166.3,612.5 2145.8,639.8 2125.3,612.5"/>
<circle class="c" cx="2149.6" cy="708.6" r="17.0"/>
<polygon class="d" points="2152.7,599.6 2165.0,616.0 2152.7,632.4 2140.4,616.0"/>
<rect class="q" x="2137.8" y="323.2" width="31.6" height="31.6"/>
<circle class="c" cx="2154.6" cy="711.2" r="17.0"/>
<polygon class="d" points="2158.7,599.6 2171.0,616.0 2158.7,632.4 2146.4,616.0"/>
<circle class="c" cx="2159.6" cy="714.7" r="17.0"/>
<polygon class="d" points="2161.6,592.2 2182.1,619.5 2161.6,646.8 2141.1,619.5"/>
<circle class="c" cx="2165.5" cy="722.5" r="20.0"/>
<circle class="c" cx="2184.6" cy="710.2" r="17.0"/>
<polygon class="d" points="2198.4,581.3 2218.9,608.6 2198.4,635.9 2177.9,608.6"/>
<polygon class="d" points="2200.7,594.2 2213.0,610.5 2200.7,626.9 2188.4,610.5"/>
<circle class="c" cx="2201.8" cy="699.0" r="20.0"/>
<polygon class="d" points="2206.6,585.2 2227.1,612.5 2206.6,639.8 2186.1,612.5"/>
<polygon class="d" points="2206.7,592.9 2219.0,609.3 2206.7,625.6 2194.4,609.3"/>
<circle class="c" cx="2209.6" cy="709.5" r="17.0"/>
<polygon class="d" points="2212.7,590.5 2225.0,606.9 2212.7,623.2 2200.4,606.9"/>
<polygon class="d" points="2214.2,579.4 2234.7,606.7 2214.2,634.0 2193.7,606.7"/>
<circle class="c" cx="2214.6" cy="714.0" r="17.0"/>
<polygon class="d" points="2218.7,587.7 2231.0,604.1 2218.7,620.5 2206.4,604.1"/>
<circle class="c" cx="2219.6" cy="716.8" r="17.0"/>
<polygon class="d" points="2222.5,574.1 2243.0,601.4 2222.5,628.7 2202.0,601.4"/>
<polygon class="d" points="2224.7,584.9 2237.0,601.3 2224.7,617.7 2212.4,601.3"/>
<circle class="c" cx="2227.6" cy="729.4" r="20.0"/>
<circle class="c" cx="2229.6" cy="724.0" r="17.0"/>
<polygon class="d" points="2230.5,568.4 2251.0,595.7 2230.5,623.0 2210.0,595.7"/>
<polygon class="d" points="2230.7,586.3 2243.0,602.7 2230.7,619.1 2218.4,602.7"/>
<circle class="c" cx="2234.6" cy="717.4" r="17.0"/>
<polygon class="d" points="2236.7,585.7 2249.0,602.1 2236.7,618.5 2224.4,602.1"/>
<polygon class="d" points="2238.7,583.6 2259.2,610.9 2238.7,638.2 2218.2,610.9"/>
<circle class="c" cx="2239.6" cy="714.6" r="17.0"/>
<circle class="c" cx="2240.1" cy="711.4" r="20.0"/>
<polygon class="d" points="2242.7,590.9 2255.0,607.3 2242.7,623.7 2230.4,607.3"/>
<circle class="c" cx="2244.6" cy="713.0" r="17.0"/>
<polygon class="d" points="2245.9,572.4 2266.4,599.7 2245.9,627.0 2225.4,599.7"/>
<polygon class="d" points="2248.7,594.8 2261.0,611.2 2248.7,627.6 2236.4,611.2"/>
<circle class="c" cx="2249.6" cy="714.0" r="17.0"/>
<circle class="c" cx="2249.6" cy="722.7" r="20.0"/>
<polygon class="d" points="2254.4,595.7 2274.9,623.0 2254.4,650.3 2233.9,623.0"/>
<circle class="c" cx="2254.6" cy="705.7" r="17.0"/>
<rect class="q" x="2238.8" y="330.8" width="31.6" height="31.6"/>
<polygon class="d" points="2254.7,602.0 2267.0,618.4 2254.7,634.8 2242.4,618.4"/>
<circle class="c" cx="2255.0" cy="699.0" r="20.0"/>
<circle class="c" cx="2259.6" cy="704.7" r="17.0"/>
<polygon class="d" points="2260.7,611.4 2273.0,627.8 2260.7,644.1 2248.4,627.8"/>
<polygon class="d" points="2262.2,605.2 2282.7,632.5 2262.2,659.8 2241.7,632.5"/>
<circle class="c" cx="2264.6" cy="700.8" r="17.0"/>
<circle class="c" cx="2266.0" cy="695.2" r="20.0"/>
<circle class="c" cx="2269.6" cy="702.0" r="17.0"/>
<rect class="q" x="2254.6" y="295.1" width="31.6" height="31.6"/>
<circle class="c" cx="2274.6" cy="701.7" r="17.0"/>
<rect class="q" x="2262.7" y="559.0" width="31.6" height="31.6"/>
<circle class="c" cx="2279.6" cy="704.2" r="17.0"/>
<rect class="q" x="2267.9" y="736.7" width="31.6" height="31.6"/>
<circle class="c" cx="2284.6" cy="705.7" r="17.0"/>
<polygon class="d" points="2286.3,588.1 2306.8,615.4 2286.3,642.7 2265.8,615.4"/>
<circle class="c" cx="2289.0" cy="706.6" r="20.0"/>
<circle class="c" cx="2289.6" cy="707.9" r="17.0"/>
<polygon class="d" points="2290.7,590.4 2303.0,606.8 2290.7,623.2 2278.4,606.8"/>
<circle class="c" cx="2291.8" cy="709.7" r="20.0"/>
<polygon class="d" points="2293.8,570.9 2314.2,598.2 2293.8,625.5 2273.2,598.2"/>
<circle class="c" cx="2294.6" cy="710.2" r="17.0"/>
<circle class="c" cx="2299.6" cy="711.6" r="17.0"/>
<rect class="q" x="2286.6" y="622.5" width="31.6" height="31.6"/>
<polygon class="d" points="2302.7,593.1 2315.0,609.4 2302.7,625.8 2290.4,609.4"/>
<circle class="c" cx="2304.6" cy="713.3" r="17.0"/>
<rect class="q" x="2291.1" y="670.3" width="31.6" height="31.6"/>
<circle class="c" cx="2309.6" cy="712.6" r="17.0"/>
<polygon class="d" points="2310.6,593.4 2331.1,620.7 2310.6,648.0 2290.1,620.7"/>
<polygon class="d" points="2314.7,600.4 2327.0,616.8 2314.7,633.2 2302.4,616.8"/>
<circle class="c" cx="2314.8" cy="721.2" r="20.0"/>
<polygon class="d" points="2318.0,588.1 2338.5,615.4 2318.0,642.7 2297.5,615.4"/>
<circle class="c" cx="2319.6" cy="712.8" r="17.0"/>
<polygon class="d" points="2320.7,600.4 2333.0,616.8 2320.7,633.2 2308.4,616.8"/>
<circle class="c" cx="2324.6" cy="706.2" r="17.0"/>
<polygon class="d" points="2326.3,587.1 2346.8,614.4 2326.3,641.7 2305.8,614.4"/>
<polygon class="d" points="2326.7,599.0 2339.0,615.4 2326.7,631.7 2314.4,615.4"/>
<circle class="c" cx="2329.6" cy="702.6" r="17.0"/>
<circle class="c" cx="2330.1" cy="699.0" r="20.0"/>
<polygon class="d" points="2332.7,601.0 2345.0,617.4 2332.7,633.7 2320.4,617.4"/>
<polygon class="d" points="2334.5,589.0 2355.0,616.3 2334.5,643.6 2314.0,616.3"/>
<circle class="c" cx="2334.6" cy="705.2" r="17.0"/>
<polygon class="d" points="2338.7,601.0 2351.0,617.4 2338.7,633.7 2326.4,617.4"/>
<circle class="c" cx="2339.6" cy="702.9" r="17.0"/>
<circle class="c" cx="2341.6" cy="699.4" r="20.0"/>
<polygon class="d" points="2342.9,594.2 2363.4,621.5 2342.9,648.8 2322.4,621.5"/>
<circle class="c" cx="2344.6" cy="704.6" r="17.0"/>
<circle class="c" cx="2349.6" cy="710.2" r="17.0"/>
<polygon class="d" points="2350.7,597.7 2363.0,614.1 2350.7,630.5 2338.4,614.1"/>
<circle class="c" cx="2354.6" cy="716.1" r="17.0"/>
<circle class="c" cx="2355.0" cy="719.8" r="20.0"/>
<polygon class="d" points="2358.8,579.5 2379.3,606.8 2358.8,634.1 2338.3,606.8"/>
<circle class="c" cx="2359.6" cy="715.6" r="17.0"/>
<polygon class="t" points="2363.0,540.6 2386.5,580.8 2339.5,580.8"/>
<circle class="c" cx="2364.6" cy="719.1" r="17.0"/>
<circle class="c" cx="2368.4" cy="718.7" r="20.0"/>
<circle class="c" cx="2374.6" cy="715.7" r="17.0"/>
<circle class="c" cx="2379.6" cy="713.4" r="17.0"/>
<circle class="c" cx="2384.6" cy="712.3" r="17.0"/>
<circle class="c" cx="2389.6" cy="711.4" r="17.0"/>
<circle class="c" cx="2393.2" cy="710.5" r="20.0"/>
<circle class="c" cx="2394.6" cy="710.3" r="17.0"/>
<circle class="c" cx="2396.1" cy="709.7" r="20.0"/>
<polygon class="d" points="2399.0,572.8 2419.5,600.1 2399.0,627.4 2378.5,600.1"/>
<circle class="c" cx="2399.6" cy="709.1" r="17.0"/>
<circle class="c" cx="2404.6" cy="708.7" r="17.0"/>
<polygon class="d" points="2404.7,590.4 2417.0,606.8 2404.7,623.1 2392.4,606.8"/>
<polygon class="d" points="2407.6,588.4 2428.1,615.7 2407.6,643.0 2387.1,615.7"/>
<circle class="c" cx="2409.6" cy="708.8" r="17.0"/>
<polygon class="d" points="2410.7,594.4 2423.0,610.8 2410.7,627.2 2398.4,610.8"/>
<circle class="c" cx="2411.4" cy="711.6" r="20.0"/>
<circle class="c" cx="2414.6" cy="707.5" r="17.0"/>
<polygon class="d" points="2414.9,577.2 2435.4,604.5 2414.9,631.8 2394.4,604.5"/>
<polygon class="d" points="2416.7,598.0 2429.0,614.4 2416.7,630.8 2404.4,614.4"/>
<circle class="c" cx="2419.6" cy="703.4" r="17.0"/>
<circle class="c" cx="2420.0" cy="699.9" r="20.0"/>
<polygon class="d" points="2422.7,597.4 2435.0,613.7 2422.7,630.1 2410.4,613.7"/>
<polygon class="d" points="2423.3,595.7 2443.8,623.0 2423.3,650.3 2402.8,623.0"/>
<circle class="c" cx="2424.6" cy="703.6" r="17.0"/>
<polygon class="d" points="2428.7,606.6 2441.0,623.0 2428.7,639.4 2416.4,623.0"/>
<circle class="c" cx="2429.6" cy="703.8" r="17.0"/>
<circle class="c" cx="2434.6" cy="703.0" r="17.0"/>
<polygon class="d" points="2434.7,606.6 2447.0,623.0 2434.7,639.4 2422.4,623.0"/>
<circle class="c" cx="2437.2" cy="705.9" r="20.0"/>
<polygon class="d" points="2438.8,564.8 2459.3,592.1 2438.8,619.4 2418.3,592.1"/>
<circle class="c" cx="2439.6" cy="702.6" r="17.0"/>
<polygon class="d" points="2440.7,584.9 2453.0,601.3 2440.7,617.7 2428.4,601.3"/>
<circle class="c" cx="2443.9" cy="699.4" r="20.0"/>
<polygon class="d" points="2446.7,588.3 2459.0,604.7 2446.7,621.1 2434.4,604.7"/>
<polygon class="d" points="2447.8,583.2 2468.3,610.5 2447.8,637.8 2427.3,610.5"/>
<circle class="c" cx="2449.6" cy="704.3" r="17.0"/>
<polygon class="d" points="2452.7,595.7 2465.0,612.0 2452.7,628.4 2440.4,612.0"/>
<circle class="c" cx="2454.6" cy="704.4" r="17.0"/>
<polygon class="d" points="2455.4,584.2 2475.9,611.5 2455.4,638.8 2434.9,611.5"/>
<polygon class="d" points="2458.7,599.0 2471.0,615.3 2458.7,631.7 2446.4,615.3"/>
<circle class="c" cx="2459.6" cy="705.4" r="17.0"/>
<polygon class="d" points="2463.6,586.8 2484.1,614.1 2463.6,641.4 2443.1,614.1"/>
<circle class="c" cx="2464.6" cy="707.1" r="17.0"/>
<polygon class="d" points="2464.7,600.6 2477.0,616.9 2464.7,633.3 2452.4,616.9"/>
<circle class="c" cx="2467.9" cy="713.5" r="20.0"/>
<circle class="c" cx="2469.6" cy="708.2" r="17.0"/>
<polygon class="d" points="2470.7,604.7 2483.0,621.1 2470.7,637.5 2458.4,621.1"/>
<polygon class="d" points="2471.7,598.0 2492.2,625.3 2471.7,652.6 2451.2,625.3"/>
<circle class="c" cx="2474.6" cy="703.5" r="17.0"/>
<circle class="c" cx="2476.5" cy="698.0" r="20.0"/>
<polygon class="d" points="2476.7,608.2 2489.0,624.6 2476.7,641.0 2464.4,624.6"/>
<polygon class="d" points="2479.3,596.6 2499.8,623.9 2479.3,651.2 2458.8,623.9"/>
</g>
<g clip-path="url(#pclip)"><g filter="url(#specf)">
<rect x="136.0" y="966.3" width="2352.0" height="611.3" fill="url(#lvl)"/>
<path d="M121.0,1600 L121.0,1541.7 Q121.0,1541.7 124.5,1531.7 Q128.0,1521.7 133.1,1532.0 Q138.1,1542.4 143.0,1531.7 Q147.9,1521.0 152.4,1532.2 Q156.8,1543.3 160.5,1531.4 Q164.1,1519.5 169.5,1531.1 Q174.9,1542.6 180.3,1528.2 Q185.7,1513.8 190.2,1530.2 Q194.8,1546.6 199.3,1529.2 Q203.8,1511.7 207.5,1525.0 Q211.2,1538.2 214.2,1524.9 Q217.3,1511.6 221.4,1523.2 Q225.5,1534.8 230.2,1519.7 Q235.0,1504.5 238.2,1519.9 Q241.4,1535.4 246.8,1520.7 Q252.2,1506.1 255.9,1520.1 Q259.6,1534.1 263.3,1525.1 Q267.0,1516.1 270.1,1524.8 Q273.2,1533.5 279.2,1524.5 Q285.2,1515.5 290.4,1530.1 Q295.6,1544.6 301.3,1529.5 Q306.9,1514.3 311.7,1524.0 Q316.6,1533.7 319.7,1522.1 Q322.8,1510.4 326.8,1521.4 Q330.8,1532.4 335.2,1521.1 Q339.7,1509.8 343.1,1523.8 Q346.4,1537.8 352.3,1520.5 Q358.1,1503.2 362.3,1516.0 Q366.4,1528.8 369.8,1517.8 Q373.3,1506.8 378.7,1518.6 Q384.2,1530.5 387.6,1517.8 Q390.9,1505.2 396.7,1521.1 Q402.5,1536.9 406.9,1526.5 Q411.2,1516.1 415.9,1527.7 Q420.5,1539.2 424.6,1524.2 Q428.6,1509.2 433.0,1527.8 Q437.5,1546.3 441.1,1533.1 Q444.6,1520.0 447.7,1532.2 Q450.8,1544.4 456.4,1527.3 Q462.0,1510.2 465.7,1525.3 Q469.5,1540.4 474.8,1527.1 Q480.1,1513.8 483.8,1528.4 Q487.4,1543.0 493.3,1526.5 Q499.2,1510.0 504.9,1527.2 Q510.6,1544.4 515.8,1531.0 Q521.1,1517.6 526.4,1532.1 Q531.7,1546.5 536.4,1533.1 Q541.2,1519.8 546.3,1529.2 Q551.5,1538.7 554.9,1528.3 Q558.3,1518.0 562.7,1529.6 Q567.1,1541.3 572.6,1532.6 Q578.1,1523.9 581.7,1536.8 Q585.3,1549.6 591.1,1535.8 Q596.8,1521.9 602.5,1531.9 Q608.2,1542.0 612.4,1526.2 Q616.6,1510.4 620.7,1528.3 Q624.8,1546.2 629.2,1530.4 Q633.5,1514.5 637.7,1527.8 Q641.8,1541.1 647.8,1525.4 Q653.8,1509.7 658.0,1525.2 Q662.1,1540.7 665.2,1523.8 Q668.3,1507.0 671.6,1520.7 Q674.8,1534.5 680.0,1520.9 Q685.1,1507.4 691.1,1521.7 Q697.1,1535.9 701.6,1524.2 Q706.1,1512.5 710.6,1528.2 Q715.0,1543.8 719.7,1525.1 Q724.3,1506.4 729.6,1520.8 Q734.8,1535.2 738.5,1523.5 Q742.2,1511.8 747.0,1526.4 Q751.8,1540.9 756.5,1523.4 Q761.1,1505.8 766.0,1520.0 Q770.9,1534.1 774.4,1518.0 Q778.0,1502.0 781.5,1515.9 Q785.0,1529.9 789.0,1518.1 Q793.1,1506.3 798.9,1521.1 Q804.6,1536.0 808.7,1522.1 Q812.7,1508.3 817.5,1519.8 Q822.3,1531.4 826.2,1517.2 Q830.1,1503.0 833.4,1522.5 Q836.8,1542.0 840.0,1526.4 Q843.2,1510.9 848.6,1525.1 Q854.0,1539.3 859.4,1527.9 Q864.7,1516.5 868.8,1531.0 Q872.9,1545.5 878.0,1530.7 Q883.0,1516.0 888.1,1527.6 Q893.1,1539.2 898.8,1529.4 Q904.5,1519.6 910.4,1529.5 Q916.2,1539.4 920.5,1523.6 Q924.7,1507.9 930.7,1523.7 Q936.6,1539.5 942.5,1526.4 Q948.4,1513.3 953.2,1527.9 Q957.9,1542.6 963.6,1526.2 Q969.2,1509.9 973.7,1527.6 Q978.2,1545.4 982.3,1530.8 Q986.4,1516.1 990.2,1528.8 Q993.9,1541.5 999.5,1532.2 Q1005.2,1522.9 1008.7,1536.6 Q1012.1,1550.2 1015.4,1537.3 Q1018.6,1524.3 1024.0,1536.6 Q1029.4,1548.8 1034.7,1531.5 Q1040.0,1514.2 1044.5,1530.9 Q1048.9,1547.7 1054.4,1533.8 Q1060.0,1520.0 1063.1,1531.0 Q1066.3,1542.0 1070.0,1529.8 Q1073.8,1517.6 1077.7,1531.0 Q1081.6,1544.3 1085.8,1526.5 Q1090.1,1508.7 1093.6,1525.6 Q1097.1,1542.5 1100.3,1528.8 Q1103.5,1515.1 1107.5,1527.9 Q1111.5,1540.6 1117.2,1522.1 Q1122.9,1503.6 1128.9,1520.4 Q1134.8,1537.2 1140.1,1525.1 Q1145.3,1513.1 1149.7,1527.2 Q1154.2,1541.2 1157.9,1528.4 Q1161.7,1515.6 1167.6,1528.6 Q1173.5,1541.6 1178.0,1524.2 Q1182.6,1506.9 1187.8,1524.9 Q1193.0,1542.9 1196.1,1526.4 Q1199.1,1509.8 1202.8,1525.2 Q1206.4,1540.6 1211.9,1521.9 Q1217.5,1503.2 1222.8,1521.4 Q1228.2,1539.6 1233.9,1523.1 Q1239.5,1506.6 1244.3,1522.0 Q1249.1,1537.3 1253.4,1523.8 Q1257.7,1510.2 1262.4,1525.5 Q1267.2,1540.7 1272.7,1524.6 Q1278.3,1508.6 1282.2,1521.9 Q1286.1,1535.2 1290.7,1523.6 Q1295.3,1512.0 1299.1,1525.4 Q1303.0,1538.7 1308.3,1527.2 Q1313.6,1515.7 1316.6,1531.3 Q1319.6,1546.9 1324.7,1530.2 Q1329.8,1513.6 1335.6,1526.2 Q1341.5,1538.8 1344.5,1523.5 Q1347.6,1508.2 1352.4,1524.5 Q1357.2,1540.8 1362.1,1527.4 Q1367.0,1514.0 1372.6,1524.7 Q1378.2,1535.4 1382.9,1525.2 Q1387.7,1515.0 1391.4,1526.5 Q1395.2,1538.1 1399.4,1523.5 Q1403.6,1509.0 1409.5,1528.6 Q1415.4,1548.3 1421.1,1532.8 Q1426.8,1517.4 1430.2,1533.8 Q1433.6,1550.3 1436.9,1534.5 Q1440.2,1518.8 1443.5,1530.8 Q1446.8,1542.9 1449.8,1529.3 Q1452.9,1515.8 1457.2,1531.0 Q1461.6,1546.2 1465.0,1533.3 Q1468.4,1520.4 1474.0,1534.4 Q1479.6,1548.3 1484.6,1533.6 Q1489.6,1519.0 1492.9,1531.6 Q1496.3,1544.2 1500.9,1527.0 Q1505.6,1509.7 1509.5,1524.4 Q1513.5,1539.0 1518.0,1524.0 Q1522.5,1509.1 1526.1,1523.5 Q1529.8,1537.9 1533.3,1522.3 Q1536.8,1506.7 1540.3,1522.4 Q1543.9,1538.2 1548.0,1523.8 Q1552.2,1509.5 1557.3,1521.5 Q1562.4,1533.5 1567.1,1524.6 Q1571.7,1515.6 1574.9,1528.2 Q1578.0,1540.8 1583.1,1528.5 Q1588.3,1516.3 1593.9,1529.7 Q1599.5,1543.0 1604.8,1529.0 Q1610.1,1515.0 1615.5,1529.7 Q1620.9,1544.4 1623.9,1526.5 Q1626.9,1508.6 1631.3,1522.2 Q1635.7,1535.8 1638.9,1518.7 Q1642.1,1501.7 1647.4,1519.1 Q1652.7,1536.6 1656.2,1521.9 Q1659.7,1507.2 1664.9,1520.9 Q1670.0,1534.6 1673.8,1523.4 Q1677.5,1512.3 1682.6,1521.8 Q1687.7,1531.2 1691.6,1517.6 Q1695.6,1503.9 1698.7,1521.4 Q1701.8,1539.0 1706.0,1526.4 Q1710.2,1513.8 1714.1,1526.4 Q1718.0,1539.0 1723.7,1523.1 Q1729.4,1507.2 1733.3,1523.9 Q1737.2,1540.5 1741.7,1529.8 Q1746.2,1519.0 1750.9,1531.0 Q1755.5,1543.1 1761.4,1528.7 Q1767.2,1514.4 1770.5,1527.9 Q1773.8,1541.3 1778.6,1528.4 Q1783.4,1515.5 1787.9,1528.9 Q1792.5,1542.3 1797.7,1528.7 Q1802.9,1515.1 1808.8,1529.8 Q1814.7,1544.4 1818.6,1530.2 Q1822.5,1515.9 1827.6,1528.0 Q1832.7,1540.1 1837.3,1525.7 Q1841.9,1511.3 1846.6,1529.1 Q1851.2,1546.9 1854.4,1533.7 Q1857.6,1520.5 1863.1,1535.7 Q1868.5,1550.8 1874.4,1533.0 Q1880.4,1515.2 1884.4,1533.2 Q1888.5,1551.1 1892.5,1537.7 Q1896.4,1524.2 1902.4,1532.9 Q1908.4,1541.5 1911.7,1528.1 Q1915.0,1514.8 1918.2,1530.3 Q1921.5,1545.7 1924.7,1528.2 Q1927.9,1510.6 1933.4,1527.8 Q1938.8,1545.0 1944.1,1526.8 Q1949.4,1508.7 1953.7,1524.7 Q1958.0,1540.8 1962.9,1524.2 Q1967.8,1507.5 1970.8,1521.3 Q1973.9,1535.0 1978.8,1520.7 Q1983.8,1506.5 1988.1,1522.6 Q1992.4,1538.7 1997.0,1526.5 Q2001.5,1514.2 2005.7,1525.6 Q2009.9,1536.9 2014.1,1525.9 Q2018.3,1514.9 2021.9,1526.9 Q2025.6,1538.9 2028.8,1526.8 Q2031.9,1514.7 2036.2,1526.8 Q2040.5,1538.9 2044.3,1523.4 Q2048.0,1507.8 2053.1,1521.2 Q2058.2,1534.7 2063.7,1519.0 Q2069.1,1503.3 2074.3,1520.6 Q2079.5,1537.8 2083.8,1521.6 Q2088.2,1505.5 2091.9,1517.7 Q2095.6,1529.8 2099.8,1520.2 Q2103.9,1510.6 2108.4,1523.0 Q2112.9,1535.5 2117.8,1517.9 Q2122.6,1500.3 2128.5,1519.4 Q2134.4,1538.5 2137.7,1524.4 Q2140.9,1510.3 2145.4,1524.1 Q2149.8,1538.0 2154.3,1525.0 Q2158.8,1512.1 2163.9,1529.3 Q2169.1,1546.5 2174.7,1529.7 Q2180.4,1512.8 2185.8,1528.5 Q2191.1,1544.2 2196.0,1530.3 Q2200.9,1516.3 2206.1,1528.4 Q2211.4,1540.4 2216.4,1525.8 Q2221.4,1511.2 2227.0,1527.2 Q2232.6,1543.3 2237.7,1528.6 Q2242.8,1513.9 2247.8,1526.9 Q2252.9,1539.8 2256.6,1526.3 Q2260.3,1512.9 2266.1,1525.9 Q2271.8,1538.8 2276.0,1528.8 Q2280.1,1518.8 2285.0,1529.0 Q2289.8,1539.1 2295.3,1529.5 Q2300.8,1519.8 2306.7,1533.2 Q2312.6,1546.5 2318.5,1531.2 Q2324.5,1515.8 2327.5,1532.0 Q2330.5,1548.2 2334.5,1534.0 Q2338.4,1519.8 2342.3,1530.5 Q2346.3,1541.2 2350.5,1528.8 Q2354.6,1516.4 2358.1,1528.1 Q2361.5,1539.7 2366.2,1528.7 Q2370.8,1517.7 2374.1,1528.3 Q2377.3,1538.9 2381.2,1524.2 Q2385.1,1509.6 2390.9,1522.6 Q2396.8,1535.6 2402.0,1520.1 Q2407.2,1504.6 2411.6,1519.8 Q2416.0,1535.1 2419.3,1520.8 Q2422.7,1506.4 2428.5,1523.7 Q2434.4,1541.1 2439.5,1529.0 Q2444.6,1517.0 2448.2,1527.4 Q2451.8,1537.8 2455.9,1522.9 Q2459.9,1508.0 2464.8,1524.6 Q2469.7,1541.2 2474.8,1524.2 Q2479.8,1507.2 2483.6,1522.7 Q2487.4,1538.3 2493.2,1525.7 L2499.1,1513.1 L2499.1,1600 Z" fill="#000000" filter="url(#fblur)"/>
<polygon filter="url(#sblur2)" points="306.5,1313.0 309.5,1313.0 310.8,1458.0 307.2,1458.0" fill="#ffffff" fill-opacity="0.15"/>
<polygon filter="url(#sblur)" points="306.5,1458.0 313.5,1458.0 324.3,1541.0 313.3,1541.0" fill="#ffffff" fill-opacity="0.58"/>
<polygon filter="url(#sblur)" points="310.0,1490.0 316.0,1490.0 323.8,1536.0 314.8,1536.0" fill="#ffffff" fill-opacity="0.3"/>
<polygon filter="url(#sblur2)" points="805.5,1313.0 808.5,1313.0 809.8,1458.0 806.2,1458.0" fill="#ffffff" fill-opacity="0.15"/>
<polygon filter="url(#sblur)" points="805.5,1458.0 812.5,1458.0 824.5,1541.0 813.5,1541.0" fill="#ffffff" fill-opacity="0.58"/>
<polygon filter="url(#sblur)" points="809.0,1490.0 815.0,1490.0 824.0,1536.0 815.0,1536.0" fill="#ffffff" fill-opacity="0.3"/>
<polygon filter="url(#sblur2)" points="1294.2,1313.0 1297.2,1313.0 1298.5,1458.0 1295.0,1458.0" fill="#ffffff" fill-opacity="0.15"/>
<polygon filter="url(#sblur)" points="1294.2,1458.0 1301.2,1458.0 1312.1,1541.0 1301.1,1541.0" fill="#ffffff" fill-opacity="0.58"/>
<polygon filter="url(#sblur)" points="1297.7,1490.0 1303.7,1490.0 1311.6,1536.0 1302.6,1536.0" fill="#ffffff" fill-opacity="0.3"/>
<polygon filter="url(#sblur2)" points="1779.7,1313.0 1782.7,1313.0 1784.0,1458.0 1780.5,1458.0" fill="#ffffff" fill-opacity="0.15"/>
<polygon filter="url(#sblur)" points="1779.7,1458.0 1786.7,1458.0 1798.7,1541.0 1787.7,1541.0" fill="#ffffff" fill-opacity="0.58"/>
<polygon filter="url(#sblur)" points="1783.2,1490.0 1789.2,1490.0 1798.2,1536.0 1789.2,1536.0" fill="#ffffff" fill-opacity="0.3"/>
<polygon filter="url(#sblur2)" points="2263.8,1313.0 2266.8,1313.0 2268.1,1458.0 2264.6,1458.0" fill="#ffffff" fill-opacity="0.15"/>
<polygon filter="url(#sblur)" points="2263.8,1458.0 2270.8,1458.0 2284.0,1541.0 2273.0,1541.0" fill="#ffffff" fill-opacity="0.58"/>
<polygon filter="url(#sblur)" points="2267.3,1490.0 2273.3,1490.0 2283.5,1536.0 2274.5,1536.0" fill="#ffffff" fill-opacity="0.3"/>
<polygon filter="url(#sblur)" points="386.8,1466.0 391.2,1466.0 396.5,1534.0 389.5,1534.0" fill="#ffffff" fill-opacity="0.62"/>
<polygon filter="url(#sblur)" points="885.0,1466.0 889.5,1466.0 896.9,1534.0 889.9,1534.0" fill="#ffffff" fill-opacity="0.62"/>
<polygon filter="url(#sblur)" points="1373.8,1466.0 1378.2,1466.0 1385.5,1534.0 1378.5,1534.0" fill="#ffffff" fill-opacity="0.62"/>
<polygon filter="url(#sblur)" points="1858.5,1466.0 1863.0,1466.0 1870.2,1534.0 1863.2,1534.0" fill="#ffffff" fill-opacity="0.62"/>
<polygon filter="url(#sblur)" points="2343.8,1466.0 2348.2,1466.0 2355.2,1534.0 2348.2,1534.0" fill="#ffffff" fill-opacity="0.62"/>
<polygon filter="url(#sblur2)" points="526.2,972.0 529.2,972.0 527.7,1361.8 523.7,1361.8" fill="#ffffff" fill-opacity="0.15"/>
<polygon filter="url(#sblur)" points="524.0,1353.8 527.5,1353.8 531.3,1446.8 525.3,1446.8" fill="#ffffff" fill-opacity="0.55"/>
<polygon filter="url(#sblur)" points="525.3,1441.8 531.3,1441.8 538.5,1521.0 527.5,1521.0" fill="#ffffff" fill-opacity="0.58"/>
<polygon filter="url(#sblur)" points="528.0,1470.0 534.0,1470.0 538.5,1516.0 529.5,1516.0" fill="#ffffff" fill-opacity="0.3"/>
<polygon filter="url(#sblur2)" points="1022.2,972.0 1025.2,972.0 1023.7,1357.8 1019.7,1357.8" fill="#ffffff" fill-opacity="0.15"/>
<polygon filter="url(#sblur)" points="1020.0,1349.8 1023.5,1349.8 1028.5,1442.8 1022.5,1442.8" fill="#ffffff" fill-opacity="0.55"/>
<polygon filter="url(#sblur)" points="1022.5,1437.8 1028.5,1437.8 1038.1,1521.0 1027.1,1521.0" fill="#ffffff" fill-opacity="0.58"/>
<polygon filter="url(#sblur)" points="1027.6,1470.0 1033.6,1470.0 1038.1,1516.0 1029.1,1516.0" fill="#ffffff" fill-opacity="0.3"/>
<polygon filter="url(#sblur2)" points="1507.2,972.0 1510.2,972.0 1508.7,1349.7 1504.7,1349.7" fill="#ffffff" fill-opacity="0.15"/>
<polygon filter="url(#sblur)" points="1505.0,1341.7 1508.5,1341.7 1513.9,1434.7 1507.9,1434.7" fill="#ffffff" fill-opacity="0.55"/>
<polygon filter="url(#sblur)" points="1507.9,1429.7 1513.9,1429.7 1524.2,1521.0 1513.2,1521.0" fill="#ffffff" fill-opacity="0.58"/>
<polygon filter="url(#sblur)" points="1513.7,1470.0 1519.7,1470.0 1524.2,1516.0 1515.2,1516.0" fill="#ffffff" fill-opacity="0.3"/>
<polygon filter="url(#sblur2)" points="1993.8,972.0 1996.8,972.0 1995.3,1345.7 1991.3,1345.7" fill="#ffffff" fill-opacity="0.15"/>
<polygon filter="url(#sblur)" points="1991.5,1337.7 1995.0,1337.7 1999.8,1430.7 1993.8,1430.7" fill="#ffffff" fill-opacity="0.55"/>
<polygon filter="url(#sblur)" points="1993.8,1425.7 1999.8,1425.7 2008.8,1521.0 1997.8,1521.0" fill="#ffffff" fill-opacity="0.58"/>
<polygon filter="url(#sblur)" points="1998.3,1470.0 2004.3,1470.0 2008.8,1516.0 1999.8,1516.0" fill="#ffffff" fill-opacity="0.3"/>
<polygon filter="url(#sblur)" points="602.2,1402.0 605.8,1402.0 613.8,1516.0 606.2,1516.0" fill="#ffffff" fill-opacity="0.6"/>
<polygon filter="url(#sblur)" points="1101.2,1381.9 1104.7,1381.9 1112.8,1516.0 1105.2,1516.0" fill="#ffffff" fill-opacity="0.6"/>
<polygon filter="url(#sblur)" points="1583.2,1377.8 1586.8,1377.8 1596.8,1516.0 1589.2,1516.0" fill="#ffffff" fill-opacity="0.6"/>
<polygon filter="url(#sblur)" points="2071.8,1414.0 2075.3,1414.0 2085.4,1516.0 2077.9,1516.0" fill="#ffffff" fill-opacity="0.6"/>
<polygon filter="url(#sblur)" points="646.0,1370.0 650.0,1370.0 652.5,1462.0 647.5,1462.0" fill="#ffffff" fill-opacity="0.2"/>
<polygon filter="url(#sblur)" points="688.5,1402.0 692.5,1402.0 695.0,1462.0 690.0,1462.0" fill="#ffffff" fill-opacity="0.2"/>
<polygon filter="url(#sblur)" points="1171.0,1362.0 1175.0,1362.0 1177.5,1482.0 1172.5,1482.0" fill="#ffffff" fill-opacity="0.18"/>
<polygon filter="url(#sblur)" points="1657.0,1362.0 1661.0,1362.0 1663.5,1482.0 1658.5,1482.0" fill="#ffffff" fill-opacity="0.18"/>
<polygon filter="url(#sblur)" points="2160.0,1402.0 2164.0,1402.0 2166.5,1466.0 2161.5,1466.0" fill="#ffffff" fill-opacity="0.2"/>
<polygon filter="url(#sblur)" points="2186.0,1342.0 2190.0,1342.0 2192.5,1422.0 2187.5,1422.0" fill="#ffffff" fill-opacity="0.18"/>
<polygon filter="url(#sblur)" points="2218.3,1345.7 2222.3,1345.7 2224.8,1494.0 2219.8,1494.0" fill="#ffffff" fill-opacity="0.35"/>
<polygon filter="url(#sblur)" points="158.0,1341.7 162.0,1341.7 164.5,1482.0 159.5,1482.0" fill="#ffffff" fill-opacity="0.35"/>
<polygon filter="url(#sblur)" points="2477.5,1329.6 2481.5,1329.6 2484.0,1494.4 2479.0,1494.4" fill="#ffffff" fill-opacity="0.6"/>
<polygon filter="url(#sblur)" points="159.2,1423.0 162.8,1423.0 166.0,1489.0 161.0,1489.0" fill="#ffffff" fill-opacity="0.18361548524525573"/>
<polygon filter="url(#sblur)" points="178.2,1437.4 181.8,1437.4 185.0,1503.3 180.0,1503.3" fill="#ffffff" fill-opacity="0.19378599973323338"/>
<polygon filter="url(#sblur)" points="197.2,1396.3 200.8,1396.3 204.0,1452.6 199.0,1452.6" fill="#ffffff" fill-opacity="0.1954685373598651"/>
<polygon filter="url(#sblur)" points="212.2,1424.2 215.8,1424.2 219.0,1495.7 214.0,1495.7" fill="#ffffff" fill-opacity="0.12905647717225155"/>
<polygon filter="url(#sblur)" points="229.2,1416.1 232.8,1416.1 236.0,1464.7 231.0,1464.7" fill="#ffffff" fill-opacity="0.16350086873887443"/>
<polygon filter="url(#sblur)" points="250.2,1420.8 253.8,1420.8 257.0,1461.3 252.0,1461.3" fill="#ffffff" fill-opacity="0.13733838403710785"/>
<polygon filter="url(#sblur)" points="1126.2,1407.6 1129.8,1407.6 1133.0,1479.6 1128.0,1479.6" fill="#ffffff" fill-opacity="0.18125803613033134"/>
<polygon filter="url(#sblur)" points="1148.2,1402.2 1151.8,1402.2 1155.0,1470.1 1150.0,1470.1" fill="#ffffff" fill-opacity="0.13110139347191224"/>
<polygon filter="url(#sblur)" points="1174.2,1422.8 1177.8,1422.8 1181.0,1467.2 1176.0,1467.2" fill="#ffffff" fill-opacity="0.12014198897620276"/>
<polygon filter="url(#sblur)" points="1196.2,1434.2 1199.8,1434.2 1203.0,1481.5 1198.0,1481.5" fill="#ffffff" fill-opacity="0.13723849353797857"/>
<polygon filter="url(#sblur)" points="1211.2,1439.2 1214.8,1439.2 1218.0,1508.0 1213.0,1508.0" fill="#ffffff" fill-opacity="0.14314441341975412"/>
<polygon filter="url(#sblur)" points="1234.2,1438.3 1237.8,1438.3 1241.0,1497.1 1236.0,1497.1" fill="#ffffff" fill-opacity="0.1742264381800474"/>
<polygon filter="url(#sblur)" points="1630.2,1404.2 1633.8,1404.2 1637.0,1477.1 1632.0,1477.1" fill="#ffffff" fill-opacity="0.17525135528855268"/>
<polygon filter="url(#sblur)" points="1673.2,1438.5 1676.8,1438.5 1680.0,1508.0 1675.0,1508.0" fill="#ffffff" fill-opacity="0.14390311182830942"/>
<polygon filter="url(#sblur)" points="1698.2,1411.3 1701.8,1411.3 1705.0,1457.1 1700.0,1457.1" fill="#ffffff" fill-opacity="0.1316561527632546"/>
<polygon filter="url(#sblur)" points="2138.2,1397.9 2141.8,1397.9 2145.0,1448.5 2140.0,1448.5" fill="#ffffff" fill-opacity="0.16824879979261237"/>
<polygon filter="url(#sblur)" points="2173.2,1395.2 2176.8,1395.2 2180.0,1458.9 2175.0,1458.9" fill="#ffffff" fill-opacity="0.14703174893022922"/>
<polygon filter="url(#sblur)" points="2198.2,1408.9 2201.8,1408.9 2205.0,1477.6 2200.0,1477.6" fill="#ffffff" fill-opacity="0.15845961493040311"/>
<polygon filter="url(#sblur)" points="2242.2,1409.2 2245.8,1409.2 2249.0,1466.1 2244.0,1466.1" fill="#ffffff" fill-opacity="0.17637353073127274"/>
<polygon filter="url(#sblur)" points="2298.2,1397.6 2301.8,1397.6 2305.0,1471.7 2300.0,1471.7" fill="#ffffff" fill-opacity="0.12182924506021765"/>
<polygon filter="url(#sblur)" points="2328.2,1428.7 2331.8,1428.7 2335.0,1498.3 2330.0,1498.3" fill="#ffffff" fill-opacity="0.1214454028302824"/>
<polygon filter="url(#sblur)" points="698.2,1430.4 701.8,1430.4 705.0,1483.3 700.0,1483.3" fill="#ffffff" fill-opacity="0.16628150632454997"/>
<polygon filter="url(#sblur)" points="733.2,1395.4 736.8,1395.4 740.0,1437.0 735.0,1437.0" fill="#ffffff" fill-opacity="0.13447355903608382"/>
<polygon filter="url(#sblur)" points="1438.2,1438.0 1441.8,1438.0 1445.0,1484.9 1440.0,1484.9" fill="#ffffff" fill-opacity="0.18045891299610542"/>
<polygon filter="url(#sblur)" points="1463.2,1436.8 1466.8,1436.8 1470.0,1508.0 1465.0,1508.0" fill="#ffffff" fill-opacity="0.14755054504424095"/>
<polygon filter="url(#sblur)" points="1928.2,1411.0 1931.8,1411.0 1935.0,1469.3 1930.0,1469.3" fill="#ffffff" fill-opacity="0.18204824117591964"/>
<polygon filter="url(#sblur)" points="1958.2,1399.9 1961.8,1399.9 1965.0,1466.1 1960.0,1466.1" fill="#ffffff" fill-opacity="0.18377813420730663"/>
<polygon filter="url(#sblur)" points="2149.3,1378.5 2152.3,1378.5 2155.1,1436.6 2150.6,1436.6" fill="#ffffff" fill-opacity="0.055470791850306116"/>
<polygon filter="url(#sblur)" points="939.1,1433.0 942.1,1433.0 944.9,1490.2 940.4,1490.2" fill="#ffffff" fill-opacity="0.07039757159755068"/>
<polygon filter="url(#sblur)" points="2299.7,1426.8 2302.7,1426.8 2305.5,1462.7 2301.0,1462.7" fill="#ffffff" fill-opacity="0.06900799913980263"/>
<polygon filter="url(#sblur)" points="558.4,1382.4 561.4,1382.4 564.1,1412.6 559.6,1412.6" fill="#ffffff" fill-opacity="0.09135047524093251"/>
<polygon filter="url(#sblur)" points="2468.9,1390.3 2471.9,1390.3 2474.6,1417.0 2470.1,1417.0" fill="#ffffff" fill-opacity="0.10920194652705605"/>
<polygon filter="url(#sblur)" points="1388.7,1413.6 1391.7,1413.6 1394.4,1446.9 1389.9,1446.9" fill="#ffffff" fill-opacity="0.08563761324159781"/>
<polygon filter="url(#sblur)" points="2071.4,1418.3 2074.4,1418.3 2077.2,1458.0 2072.7,1458.0" fill="#ffffff" fill-opacity="0.05334243386047361"/>
<polygon filter="url(#sblur)" points="2280.8,1378.1 2283.8,1378.1 2286.5,1420.4 2282.0,1420.4" fill="#ffffff" fill-opacity="0.10030575687008794"/>
<polygon filter="url(#sblur)" points="449.0,1444.5 452.0,1444.5 454.7,1502.8 450.2,1502.8" fill="#ffffff" fill-opacity="0.08782395760558367"/>
<polygon filter="url(#sblur)" points="1982.1,1385.1 1985.1,1385.1 1987.9,1425.3 1983.4,1425.3" fill="#ffffff" fill-opacity="0.05895472067241547"/>
<polygon filter="url(#sblur)" points="2114.4,1403.0 2117.4,1403.0 2120.2,1443.9 2115.7,1443.9" fill="#ffffff" fill-opacity="0.10995799688416807"/>
<polygon filter="url(#sblur)" points="2132.0,1467.7 2135.0,1467.7 2137.7,1508.0 2133.2,1508.0" fill="#ffffff" fill-opacity="0.07928953991331415"/>
<polygon filter="url(#sblur)" points="1845.7,1420.5 1848.7,1420.5 1851.5,1455.7 1847.0,1455.7" fill="#ffffff" fill-opacity="0.07422736491346082"/>
<polygon filter="url(#sblur)" points="486.2,1410.8 489.2,1410.8 491.9,1470.4 487.4,1470.4" fill="#ffffff" fill-opacity="0.10758895300897788"/>
<polygon filter="url(#sblur)" points="1606.6,1422.4 1609.6,1422.4 1612.3,1459.3 1607.8,1459.3" fill="#ffffff" fill-opacity="0.055348244976339646"/>
<polygon filter="url(#sblur)" points="779.5,1449.3 782.5,1449.3 785.3,1504.7 780.8,1504.7" fill="#ffffff" fill-opacity="0.07167957398136353"/>
<polygon filter="url(#sblur)" points="1977.5,1448.6 1980.5,1448.6 1983.3,1497.9 1978.8,1497.9" fill="#ffffff" fill-opacity="0.0898411066983574"/>
<polygon filter="url(#sblur)" points="1916.0,1409.5 1919.0,1409.5 1921.7,1459.2 1917.2,1459.2" fill="#ffffff" fill-opacity="0.06685112334872745"/>
<polygon filter="url(#sblur)" points="1277.1,1448.1 1280.1,1448.1 1282.9,1497.3 1278.4,1497.3" fill="#ffffff" fill-opacity="0.06763112274865155"/>
<polygon filter="url(#sblur)" points="2349.5,1436.7 2352.5,1436.7 2355.3,1482.0 2350.8,1482.0" fill="#ffffff" fill-opacity="0.0506948394213485"/>
<polygon filter="url(#sblur)" points="1420.1,1398.8 1423.1,1398.8 1425.8,1447.3 1421.3,1447.3" fill="#ffffff" fill-opacity="0.0777763393322348"/>
<polygon filter="url(#sblur)" points="2049.0,1436.5 2052.0,1436.5 2054.7,1489.4 2050.2,1489.4" fill="#ffffff" fill-opacity="0.070873070481662"/>
<polygon filter="url(#sblur)" points="1646.5,1445.1 1649.5,1445.1 1652.2,1499.1 1647.7,1499.1" fill="#ffffff" fill-opacity="0.07100270908579226"/>
<polygon filter="url(#sblur)" points="2110.1,1457.6 2113.1,1457.6 2115.8,1506.7 2111.3,1506.7" fill="#ffffff" fill-opacity="0.10856733129811645"/>
<polygon filter="url(#sblur)" points="2375.1,1424.2 2378.1,1424.2 2380.8,1467.8 2376.3,1467.8" fill="#ffffff" fill-opacity="0.059970357059830365"/>
<polygon filter="url(#sblur)" points="2095.5,1464.1 2098.5,1464.1 2101.2,1505.8 2096.7,1505.8" fill="#ffffff" fill-opacity="0.0914855350906417"/>
<polygon filter="url(#sblur)" points="1822.8,1444.4 1825.8,1444.4 1828.6,1475.4 1824.1,1475.4" fill="#ffffff" fill-opacity="0.09682229769359148"/>
<polygon filter="url(#sblur)" points="1499.0,1438.2 1502.0,1438.2 1504.8,1478.0 1500.3,1478.0" fill="#ffffff" fill-opacity="0.08742422560745827"/>
<polygon filter="url(#sblur)" points="1951.1,1435.5 1954.1,1435.5 1956.9,1485.7 1952.4,1485.7" fill="#ffffff" fill-opacity="0.051657320944487536"/>
<polygon filter="url(#sblur)" points="517.7,1416.9 520.7,1416.9 523.4,1464.7 518.9,1464.7" fill="#ffffff" fill-opacity="0.06314228985860816"/>
<polygon filter="url(#sblur)" points="1744.2,1434.9 1747.2,1434.9 1749.9,1461.4 1745.4,1461.4" fill="#ffffff" fill-opacity="0.07829513027359244"/>
<polygon filter="url(#sblur)" points="672.1,1380.1 675.1,1380.1 677.8,1409.8 673.3,1409.8" fill="#ffffff" fill-opacity="0.06904105050920568"/>
<polygon filter="url(#sblur)" points="567.9,1393.4 570.9,1393.4 573.6,1419.6 569.1,1419.6" fill="#ffffff" fill-opacity="0.07791980982621007"/>
<polygon filter="url(#sblur)" points="1031.4,1433.1 1034.4,1433.1 1037.1,1478.8 1032.6,1478.8" fill="#ffffff" fill-opacity="0.06427078457982029"/>
<polygon filter="url(#sblur)" points="2250.7,1375.1 2253.7,1375.1 2256.5,1414.3 2252.0,1414.3" fill="#ffffff" fill-opacity="0.06671168425195875"/>
<polygon filter="url(#sblur)" points="1100.7,1385.9 1103.7,1385.9 1106.5,1440.0 1102.0,1440.0" fill="#ffffff" fill-opacity="0.07243277935581088"/>
<polygon filter="url(#sblur)" points="228.6,1433.3 231.6,1433.3 234.3,1461.6 229.8,1461.6" fill="#ffffff" fill-opacity="0.08271325179009781"/>
<polygon filter="url(#sblur)" points="935.9,1430.2 938.9,1430.2 941.7,1488.7 937.2,1488.7" fill="#ffffff" fill-opacity="0.09911131998710025"/>
<polygon filter="url(#sblur)" points="1121.8,1452.2 1124.8,1452.2 1127.6,1499.7 1123.1,1499.7" fill="#ffffff" fill-opacity="0.07216656318342937"/>
<polygon filter="url(#sblur)" points="475.9,1431.6 478.9,1431.6 481.7,1476.3 477.2,1476.3" fill="#ffffff" fill-opacity="0.1074327554698992"/>
<polygon filter="url(#sblur)" points="2401.9,1432.8 2404.9,1432.8 2407.6,1470.1 2403.1,1470.1" fill="#ffffff" fill-opacity="0.10360801994576686"/>
<polygon filter="url(#sblur)" points="146.7,1385.3 149.7,1385.3 152.5,1430.1 148.0,1430.1" fill="#ffffff" fill-opacity="0.08691008234296305"/>
<polygon filter="url(#sblur)" points="472.6,1434.8 475.6,1434.8 478.4,1491.0 473.9,1491.0" fill="#ffffff" fill-opacity="0.07255089823716919"/>
<polygon filter="url(#sblur)" points="1151.2,1396.5 1154.2,1396.5 1156.9,1431.7 1152.4,1431.7" fill="#ffffff" fill-opacity="0.10834727765990729"/>
<polygon filter="url(#sblur)" points="1030.1,1466.3 1033.1,1466.3 1035.9,1508.0 1031.4,1508.0" fill="#ffffff" fill-opacity="0.085748598692097"/>
<polygon filter="url(#sblur)" points="750.4,1468.2 753.4,1468.2 756.2,1508.0 751.7,1508.0" fill="#ffffff" fill-opacity="0.07492950291320889"/>
<polygon filter="url(#sblur)" points="888.8,1468.5 891.8,1468.5 894.5,1508.0 890.0,1508.0" fill="#ffffff" fill-opacity="0.06718390113560471"/>
<polygon filter="url(#sblur)" points="1256.7,1386.6 1259.7,1386.6 1262.5,1433.3 1258.0,1433.3" fill="#ffffff" fill-opacity="0.07660805802591159"/>
<polygon filter="url(#sblur)" points="828.0,1449.3 831.0,1449.3 833.8,1503.2 829.3,1503.2" fill="#ffffff" fill-opacity="0.050792197799815204"/>
<polygon filter="url(#sblur)" points="1386.4,1401.0 1389.4,1401.0 1392.2,1458.7 1387.7,1458.7" fill="#ffffff" fill-opacity="0.09691443430040611"/>
<polygon filter="url(#sblur)" points="717.4,1400.4 720.4,1400.4 723.1,1430.8 718.6,1430.8" fill="#ffffff" fill-opacity="0.10932951224702386"/>
<polygon filter="url(#sblur)" points="828.2,1432.8 831.2,1432.8 834.0,1474.4 829.5,1474.4" fill="#ffffff" fill-opacity="0.08869259768582058"/>
<polygon filter="url(#sblur)" points="1552.7,1445.6 1555.7,1445.6 1558.4,1474.8 1553.9,1474.8" fill="#ffffff" fill-opacity="0.09562392076523557"/>
<polygon filter="url(#sblur)" points="845.7,1425.7 848.7,1425.7 851.5,1462.4 847.0,1462.4" fill="#ffffff" fill-opacity="0.06780932995585023"/>
<polygon filter="url(#sblur)" points="1380.2,1419.1 1383.2,1419.1 1385.9,1456.7 1381.4,1456.7" fill="#ffffff" fill-opacity="0.09470103106467632"/>
<polygon filter="url(#sblur)" points="1522.3,1378.5 1525.3,1378.5 1528.0,1412.3 1523.5,1412.3" fill="#ffffff" fill-opacity="0.07733682335275391"/>
<polygon filter="url(#sblur)" points="2281.9,1459.4 2284.9,1459.4 2287.7,1503.5 2283.2,1503.5" fill="#ffffff" fill-opacity="0.05087363098398024"/>
<polygon filter="url(#sblur)" points="1959.7,1415.6 1962.7,1415.6 1965.4,1460.8 1960.9,1460.8" fill="#ffffff" fill-opacity="0.09249087301787787"/>
<polygon filter="url(#sblur)" points="1618.9,1420.8 1621.9,1420.8 1624.6,1477.7 1620.1,1477.7" fill="#ffffff" fill-opacity="0.07312838903474199"/>
<polygon filter="url(#sblur)" points="1058.3,1455.9 1061.3,1455.9 1064.1,1487.8 1059.6,1487.8" fill="#ffffff" fill-opacity="0.0677869159572205"/>
<polygon filter="url(#sblur)" points="2080.1,1381.3 2083.1,1381.3 2085.9,1435.5 2081.4,1435.5" fill="#ffffff" fill-opacity="0.09167728920832174"/>
<polygon filter="url(#sblur)" points="1153.8,1402.2 1156.8,1402.2 1159.6,1454.5 1155.1,1454.5" fill="#ffffff" fill-opacity="0.1046405370433408"/>
<polygon filter="url(#sblur)" points="477.2,1420.4 480.2,1420.4 483.0,1464.7 478.5,1464.7" fill="#ffffff" fill-opacity="0.07986091538053237"/>
<polygon filter="url(#sblur)" points="915.8,1389.6 918.8,1389.6 921.5,1435.1 917.0,1435.1" fill="#ffffff" fill-opacity="0.09870938243652318"/>
<polygon filter="url(#sblur)" points="304.1,1396.9 307.1,1396.9 309.8,1450.5 305.3,1450.5" fill="#ffffff" fill-opacity="0.09750503036212216"/>
<polygon filter="url(#sblur)" points="1692.0,1377.4 1695.0,1377.4 1697.8,1427.7 1693.3,1427.7" fill="#ffffff" fill-opacity="0.1087211594292691"/>
<polygon filter="url(#sblur)" points="2472.6,1441.6 2475.6,1441.6 2478.4,1468.3 2473.9,1468.3" fill="#ffffff" fill-opacity="0.10052375828729115"/>
<polygon filter="url(#sblur)" points="655.7,1436.3 658.7,1436.3 661.5,1494.7 657.0,1494.7" fill="#ffffff" fill-opacity="0.09274660195179874"/>
<polygon filter="url(#sblur)" points="458.4,1402.8 461.4,1402.8 464.2,1459.9 459.7,1459.9" fill="#ffffff" fill-opacity="0.05898380034405851"/>
<polygon filter="url(#sblur)" points="1568.4,1414.3 1571.4,1414.3 1574.2,1445.0 1569.7,1445.0" fill="#ffffff" fill-opacity="0.08734430277934915"/>
<polygon filter="url(#sblur)" points="246.1,1385.3 249.1,1385.3 251.8,1423.6 247.3,1423.6" fill="#ffffff" fill-opacity="0.05432023642057349"/>
<polygon filter="url(#sblur)" points="278.7,1429.6 281.7,1429.6 284.5,1480.6 280.0,1480.6" fill="#ffffff" fill-opacity="0.10270742712485184"/>
<polygon filter="url(#sblur)" points="457.8,1416.0 460.8,1416.0 463.5,1452.0 459.0,1452.0" fill="#ffffff" fill-opacity="0.08601305774872471"/>
<polygon filter="url(#sblur)" points="1286.2,1464.2 1289.2,1464.2 1292.0,1502.3 1287.5,1502.3" fill="#ffffff" fill-opacity="0.05334507322530405"/>
<polygon filter="url(#sblur)" points="1770.6,1389.4 1773.6,1389.4 1776.3,1436.5 1771.8,1436.5" fill="#ffffff" fill-opacity="0.08035064620833243"/>
<polygon filter="url(#sblur)" points="2267.6,1427.7 2270.6,1427.7 2273.4,1474.4 2268.9,1474.4" fill="#ffffff" fill-opacity="0.06579480337941027"/>
<polygon filter="url(#sblur)" points="1431.0,1399.1 1434.0,1399.1 1436.8,1450.4 1432.3,1450.4" fill="#ffffff" fill-opacity="0.08101974232871964"/>
<polygon filter="url(#sblur)" points="456.5,1397.3 459.5,1397.3 462.2,1435.3 457.7,1435.3" fill="#ffffff" fill-opacity="0.09420517357687813"/>
<polygon filter="url(#sblur)" points="562.7,1442.8 565.7,1442.8 568.4,1490.7 563.9,1490.7" fill="#ffffff" fill-opacity="0.05511460136170337"/>
<polygon filter="url(#sblur)" points="1702.2,1383.7 1705.2,1383.7 1707.9,1413.0 1703.4,1413.0" fill="#ffffff" fill-opacity="0.08563845550425409"/>
<polygon filter="url(#sblur)" points="700.9,1458.3 703.9,1458.3 706.6,1500.1 702.1,1500.1" fill="#ffffff" fill-opacity="0.06939717416803859"/>
<polygon filter="url(#sblur)" points="2001.9,1377.8 2004.9,1377.8 2007.6,1428.2 2003.1,1428.2" fill="#ffffff" fill-opacity="0.053219551525224694"/>
<polygon filter="url(#sblur)" points="496.2,1465.4 499.2,1465.4 501.9,1508.0 497.4,1508.0" fill="#ffffff" fill-opacity="0.06338528145087102"/>
<polygon filter="url(#sblur)" points="415.2,1467.4 418.2,1467.4 420.9,1508.0 416.4,1508.0" fill="#ffffff" fill-opacity="0.09923577094592194"/>
<polygon filter="url(#sblur)" points="470.4,1434.4 473.4,1434.4 476.2,1471.8 471.7,1471.8" fill="#ffffff" fill-opacity="0.06410113064488862"/>
<polygon filter="url(#sblur)" points="921.7,1433.3 924.7,1433.3 927.4,1470.5 922.9,1470.5" fill="#ffffff" fill-opacity="0.07314487697696934"/>
<polygon filter="url(#sblur)" points="462.6,1454.0 465.6,1454.0 468.4,1501.6 463.9,1501.6" fill="#ffffff" fill-opacity="0.09827019108742809"/>
<polygon filter="url(#sblur)" points="1155.2,1455.9 1158.2,1455.9 1160.9,1499.0 1156.4,1499.0" fill="#ffffff" fill-opacity="0.08555760860133373"/>
<polygon filter="url(#sblur)" points="1481.3,1445.3 1484.3,1445.3 1487.1,1484.2 1482.6,1484.2" fill="#ffffff" fill-opacity="0.05581992508639494"/>
<polygon filter="url(#sblur)" points="221.8,1394.2 224.8,1394.2 227.6,1420.6 223.1,1420.6" fill="#ffffff" fill-opacity="0.10335544717481035"/>
<polygon filter="url(#sblur)" points="1266.2,1447.2 1269.2,1447.2 1271.9,1472.2 1267.4,1472.2" fill="#ffffff" fill-opacity="0.07821119381511804"/>
<polygon filter="url(#sblur)" points="2219.5,1433.8 2222.5,1433.8 2225.2,1473.9 2220.7,1473.9" fill="#ffffff" fill-opacity="0.0779344095864436"/>
<polygon filter="url(#sblur)" points="377.1,1389.7 380.1,1389.7 382.9,1420.3 378.4,1420.3" fill="#ffffff" fill-opacity="0.07247804561364674"/>
<polygon filter="url(#sblur)" points="1043.9,1458.6 1046.9,1458.6 1049.6,1489.0 1045.1,1489.0" fill="#ffffff" fill-opacity="0.06524402608435012"/>
<polygon filter="url(#sblur)" points="791.5,1390.3 794.5,1390.3 797.2,1425.4 792.7,1425.4" fill="#ffffff" fill-opacity="0.06411006765059518"/>
<polygon filter="url(#sblur)" points="1268.6,1378.0 1271.6,1378.0 1274.4,1435.4 1269.9,1435.4" fill="#ffffff" fill-opacity="0.07213808163228551"/>
<polygon filter="url(#sblur)" points="2331.8,1440.3 2334.8,1440.3 2337.5,1488.9 2333.0,1488.9" fill="#ffffff" fill-opacity="0.07830390461480524"/>
<polygon filter="url(#sblur)" points="2349.2,1386.2 2352.2,1386.2 2354.9,1434.6 2350.4,1434.6" fill="#ffffff" fill-opacity="0.06746604015851543"/>
<polygon filter="url(#sblur)" points="1717.4,1444.3 1720.4,1444.3 1723.1,1475.0 1718.6,1475.0" fill="#ffffff" fill-opacity="0.06206134619480683"/>
<polygon filter="url(#sblur)" points="202.6,1396.9 205.6,1396.9 208.4,1424.6 203.9,1424.6" fill="#ffffff" fill-opacity="0.07406424592957185"/>
<polygon filter="url(#sblur)" points="2414.9,1409.6 2417.9,1409.6 2420.7,1445.5 2416.2,1445.5" fill="#ffffff" fill-opacity="0.07808221713965835"/>
<polygon filter="url(#sblur)" points="804.8,1444.6 807.8,1444.6 810.5,1494.7 806.0,1494.7" fill="#ffffff" fill-opacity="0.05980119263045876"/>
<polygon filter="url(#sblur)" points="705.4,1438.9 708.4,1438.9 711.2,1496.8 706.7,1496.8" fill="#ffffff" fill-opacity="0.08875241753847038"/>
<polygon filter="url(#sblur)" points="1148.8,1467.7 1151.8,1467.7 1154.5,1492.9 1150.0,1492.9" fill="#ffffff" fill-opacity="0.0536520115076157"/>
<polygon filter="url(#sblur)" points="1961.7,1414.0 1964.7,1414.0 1967.5,1440.5 1963.0,1440.5" fill="#ffffff" fill-opacity="0.08290497668186053"/>
<polygon filter="url(#sblur)" points="2452.3,1424.3 2455.3,1424.3 2458.0,1461.5 2453.5,1461.5" fill="#ffffff" fill-opacity="0.05562887968862177"/>
<polygon filter="url(#sblur)" points="310.6,1460.4 313.6,1460.4 316.3,1502.6 311.8,1502.6" fill="#ffffff" fill-opacity="0.10614417320695446"/>
<polygon filter="url(#sblur)" points="269.9,1398.1 272.9,1398.1 275.6,1424.9 271.1,1424.9" fill="#ffffff" fill-opacity="0.0738391347743042"/>
<polygon filter="url(#sblur)" points="284.7,1399.3 287.7,1399.3 290.5,1438.5 286.0,1438.5" fill="#ffffff" fill-opacity="0.06835693328402648"/>
<polygon filter="url(#sblur)" points="264.2,1378.6 267.2,1378.6 270.0,1437.6 265.5,1437.6" fill="#ffffff" fill-opacity="0.06076318652736988"/>
</g></g>
<rect x="141.0" y="971.3" width="2342.0" height="601.3" fill="none" stroke="#262626" stroke-width="2.6"/>
<line x1="528.7" y1="971.3" x2="528.7" y2="994.3" stroke="#262626" stroke-width="2.6"/>
<line x1="528.7" y1="1572.6" x2="528.7" y2="1549.6" stroke="#262626" stroke-width="2.6"/>
<text transform="translate(528.7,1620.6) scale(1,1.05)" font-size="42" text-anchor="middle" fill="#262626" >0.5</text>
<line x1="920.7" y1="971.3" x2="920.7" y2="994.3" stroke="#262626" stroke-width="2.6"/>
<line x1="920.7" y1="1572.6" x2="920.7" y2="1549.6" stroke="#262626" stroke-width="2.6"/>
<text transform="translate(920.7,1620.6) scale(1,1.05)" font-size="42" text-anchor="middle" fill="#262626" >1</text>
<line x1="1312.7" y1="971.3" x2="1312.7" y2="994.3" stroke="#262626" stroke-width="2.6"/>
<line x1="1312.7" y1="1572.6" x2="1312.7" y2="1549.6" stroke="#262626" stroke-width="2.6"/>
<text transform="translate(1312.7,1620.6) scale(1,1.05)" font-size="42" text-anchor="middle" fill="#262626" >1.5</text>
<line x1="1704.7" y1="971.3" x2="1704.7" y2="994.3" stroke="#262626" stroke-width="2.6"/>
<line x1="1704.7" y1="1572.6" x2="1704.7" y2="1549.6" stroke="#262626" stroke-width="2.6"/>
<text transform="translate(1704.7,1620.6) scale(1,1.05)" font-size="42" text-anchor="middle" fill="#262626" >2</text>
<line x1="2096.7" y1="971.3" x2="2096.7" y2="994.3" stroke="#262626" stroke-width="2.6"/>
<line x1="2096.7" y1="1572.6" x2="2096.7" y2="1549.6" stroke="#262626" stroke-width="2.6"/>
<text transform="translate(2096.7,1620.6) scale(1,1.05)" font-size="42" text-anchor="middle" fill="#262626" >2.5</text>
<text transform="translate(131.5,986.3) scale(1,1.05)" font-size="42" text-anchor="end" fill="#262626" >80</text>
<line x1="141.0" y1="1057.2" x2="164.0" y2="1057.2" stroke="#262626" stroke-width="2.6"/>
<line x1="2483.0" y1="1057.2" x2="2460.0" y2="1057.2" stroke="#262626" stroke-width="2.6"/>
<text transform="translate(131.5,1072.2) scale(1,1.05)" font-size="42" text-anchor="end" fill="#262626" >70</text>
<line x1="141.0" y1="1143.1" x2="164.0" y2="1143.1" stroke="#262626" stroke-width="2.6"/>
<line x1="2483.0" y1="1143.1" x2="2460.0" y2="1143.1" stroke="#262626" stroke-width="2.6"/>
<text transform="translate(131.5,1158.1) scale(1,1.05)" font-size="42" text-anchor="end" fill="#262626" >60</text>
<line x1="141.0" y1="1229.0" x2="164.0" y2="1229.0" stroke="#262626" stroke-width="2.6"/>
<line x1="2483.0" y1="1229.0" x2="2460.0" y2="1229.0" stroke="#262626" stroke-width="2.6"/>
<text transform="translate(131.5,1244.0) scale(1,1.05)" font-size="42" text-anchor="end" fill="#262626" >50</text>
<line x1="141.0" y1="1314.9" x2="164.0" y2="1314.9" stroke="#262626" stroke-width="2.6"/>
<line x1="2483.0" y1="1314.9" x2="2460.0" y2="1314.9" stroke="#262626" stroke-width="2.6"/>
<text transform="translate(131.5,1329.9) scale(1,1.05)" font-size="42" text-anchor="end" fill="#262626" >40</text>
<line x1="141.0" y1="1400.8" x2="164.0" y2="1400.8" stroke="#262626" stroke-width="2.6"/>
<line x1="2483.0" y1="1400.8" x2="2460.0" y2="1400.8" stroke="#262626" stroke-width="2.6"/>
<text transform="translate(131.5,1415.8) scale(1,1.05)" font-size="42" text-anchor="end" fill="#262626" >30</text>
<line x1="141.0" y1="1486.7" x2="164.0" y2="1486.7" stroke="#262626" stroke-width="2.6"/>
<line x1="2483.0" y1="1486.7" x2="2460.0" y2="1486.7" stroke="#262626" stroke-width="2.6"/>
<text transform="translate(131.5,1501.7) scale(1,1.05)" font-size="42" text-anchor="end" fill="#262626" >20</text>
<text transform="translate(131.5,1587.6) scale(1,1.05)" font-size="42" text-anchor="end" fill="#262626" >10</text>
<text transform="translate(1311.8,1673.4) scale(1,1.05)" font-size="46" text-anchor="middle" fill="#262626" >Time (minutes)</text>
<text transform="translate(70.3,1271.5) rotate(-90) scale(1,1.05)" font-size="46" text-anchor="middle" fill="#262626">Frequency (Hz)</text>
<text transform="translate(304.8,1429.5) scale(1,1.05)" font-size="76" text-anchor="middle" fill="#ffffff" >A</text>
<text transform="translate(805.4,1429.5) scale(1,1.05)" font-size="76" text-anchor="middle" fill="#ffffff" >A</text>
<text transform="translate(1301.2,1429.5) scale(1,1.05)" font-size="76" text-anchor="middle" fill="#ffffff" >A</text>
<text transform="translate(1781.0,1429.5) scale(1,1.05)" font-size="76" text-anchor="middle" fill="#ffffff" >A</text>
<text transform="translate(2264.9,1429.5) scale(1,1.05)" font-size="76" text-anchor="middle" fill="#ffffff" >A</text>
<text transform="translate(522.5,1342.5) scale(1,1.05)" font-size="76" text-anchor="middle" fill="#ffffff" >B</text>
<text transform="translate(1022.7,1342.5) scale(1,1.05)" font-size="76" text-anchor="middle" fill="#ffffff" >B</text>
<text transform="translate(1502.1,1342.5) scale(1,1.05)" font-size="76" text-anchor="middle" fill="#ffffff" >B</text>
<text transform="translate(1997.7,1342.5) scale(1,1.05)" font-size="76" text-anchor="middle" fill="#ffffff" >B</text>
</svg>
</body></html>
